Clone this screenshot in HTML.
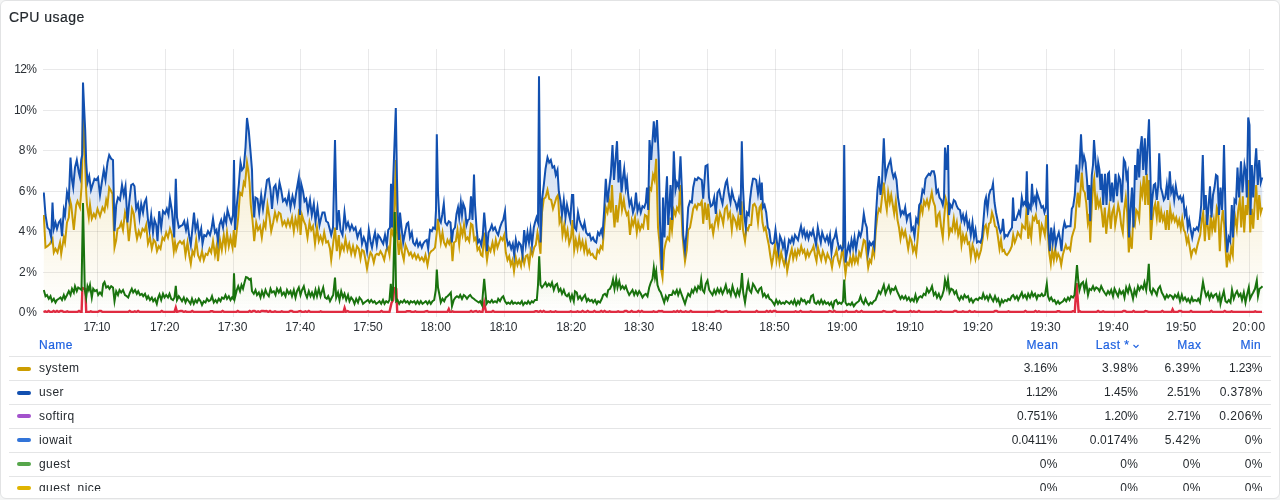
<!DOCTYPE html>
<html><head><meta charset="utf-8"><title>CPU usage</title>
<style>
html,body{margin:0;padding:0;width:1280px;height:500px;overflow:hidden;background:#f4f5f5;}
body{font-family:"Liberation Sans",sans-serif;color:#24292e;position:relative;}
#panel{position:absolute;left:0;top:0;width:1278px;height:497px;background:#fff;border:1px solid #e2e3e4;border-radius:6px;overflow:hidden;}
#title{will-change:transform;position:absolute;left:8px;top:7.5px;font-size:14px;line-height:16px;letter-spacing:0.45px;color:#24292e;-webkit-text-stroke:0.2px #24292e;}
svg{position:absolute;left:-1px;top:-1px;will-change:transform;}
.ax{font-size:12px;fill:#2b3036;font-family:"Liberation Sans",sans-serif;}
#legend{will-change:transform;position:absolute;left:8px;top:331px;width:1262px;height:159px;overflow:hidden;font-size:12px;}
.row{position:absolute;left:0;width:1262px;height:24px;border-top:1px solid #e4e5e6;box-sizing:border-box;}
.row .ic{position:absolute;left:8px;top:9px;width:14px;height:4px;border-radius:2px;}
.row .nm{position:absolute;left:30px;top:4px;line-height:14px;letter-spacing:0.42px;}
.v{position:absolute;top:4px;line-height:14px;text-align:right;width:80px;}
.hd{position:absolute;top:6px;line-height:14px;color:#1f62e0;letter-spacing:0.5px;-webkit-text-stroke:0.2px #1f62e0;}
.c1{right:213.5px}.c2{right:133px}.c3{right:70.5px}.c4{right:8.5px}
</style></head><body>
<div id="panel">
<div id="title">CPU usage</div>
<svg width="1280" height="500" viewBox="0 0 1280 500">
<defs>
<linearGradient id="gy" gradientUnits="userSpaceOnUse" x1="0" y1="49" x2="0" y2="313"><stop offset="0" stop-color="#CC9D00" stop-opacity="0.3"/><stop offset="1" stop-color="#CC9D00" stop-opacity="0"/></linearGradient>
<linearGradient id="gb" gradientUnits="userSpaceOnUse" x1="0" y1="49" x2="0" y2="313"><stop offset="0" stop-color="#1250B0" stop-opacity="0.3"/><stop offset="1" stop-color="#1250B0" stop-opacity="0"/></linearGradient>
<linearGradient id="gg" gradientUnits="userSpaceOnUse" x1="0" y1="49" x2="0" y2="313"><stop offset="0" stop-color="#19730E" stop-opacity="0.3"/><stop offset="1" stop-color="#19730E" stop-opacity="0"/></linearGradient>
<clipPath id="cp"><rect x="43" y="49" width="1221" height="264"/></clipPath>
</defs>
<g stroke="#24292e" stroke-opacity="0.1" stroke-width="1" fill="none">
<path d="M43 69.5H1264M43 110.5H1264M43 150.5H1264M43 191.5H1264M43 231.5H1264M43 272.5H1264M43 312.5H1264"/>
<path d="M97.5 49V317M165.5 49V317M233.5 49V317M300.5 49V317M368.5 49V317M436.5 49V317M504.5 49V317M571.5 49V317M639.5 49V317M707.5 49V317M775.5 49V317M842.5 49V317M910.5 49V317M978.5 49V317M1046.5 49V317M1114.5 49V317M1181.5 49V317M1249.5 49V317"/>
</g>
<g clip-path="url(#cp)" fill="none" stroke-linejoin="miter" stroke-miterlimit="10" stroke-linecap="butt">
<path d="M43.8 215.0 L45.5 247.5 L47.5 246.2 L50.0 243.8 L52.5 238.8 L53.8 252.5 L55.5 248.8 L57.5 252.5 L60.0 242.5 L61.2 253.8 L63.8 237.5 L65.0 242.5 L67.0 222.5 L68.8 217.5 L70.0 200.0 L71.2 205.0 L72.5 217.5 L73.8 230.0 L76.2 205.0 L77.5 201.2 L80.0 207.5 L81.5 187.5 L82.2 165.0 L83.0 113.8 L84.0 135.0 L85.2 165.0 L86.2 192.5 L87.0 205.0 L88.8 217.5 L90.0 205.0 L91.8 218.8 L93.8 213.8 L95.5 217.5 L97.5 208.8 L100.0 216.2 L102.5 207.5 L104.5 211.2 L106.2 200.0 L107.5 205.0 L109.2 187.5 L111.2 191.2 L112.5 193.8 L114.5 247.5 L116.2 240.0 L117.5 228.8 L119.5 227.5 L121.2 222.5 L123.0 230.0 L125.0 212.5 L127.0 220.0 L128.8 241.2 L130.5 225.0 L132.0 208.8 L133.8 213.8 L135.5 230.0 L137.0 238.8 L138.8 231.2 L140.5 236.2 L142.5 228.8 L144.5 231.2 L146.2 225.0 L148.0 243.8 L150.0 237.5 L151.8 248.8 L153.8 240.0 L155.5 242.5 L157.0 251.2 L158.8 246.2 L160.5 248.8 L162.5 237.5 L164.2 240.0 L166.2 232.5 L168.0 237.5 L170.0 228.8 L172.0 235.0 L173.8 251.2 L175.0 242.5 L176.2 250.0 L178.0 243.8 L180.0 241.2 L182.0 243.8 L183.8 241.2 L185.5 255.0 L187.5 242.5 L189.2 255.0 L190.8 263.8 L192.5 251.2 L194.2 255.0 L196.2 240.0 L198.0 255.0 L200.0 260.0 L202.0 251.2 L203.8 260.0 L205.8 253.8 L207.5 255.0 L209.5 248.8 L211.2 252.5 L213.0 241.2 L215.0 255.0 L216.8 245.0 L218.0 261.2 L220.0 240.0 L221.8 250.0 L223.8 235.0 L225.5 247.5 L227.0 232.5 L228.8 246.2 L230.5 237.5 L232.5 247.5 L233.8 230.0 L235.0 247.5 L236.8 230.0 L238.2 217.5 L240.0 192.5 L242.0 195.0 L243.8 182.5 L245.0 185.0 L247.0 162.5 L248.2 170.0 L249.5 182.5 L250.8 205.0 L252.5 220.0 L254.2 241.2 L256.2 222.5 L258.0 230.0 L260.0 226.2 L261.8 237.5 L263.8 222.5 L265.5 227.5 L267.5 205.0 L269.5 217.5 L271.2 231.2 L273.2 222.5 L275.0 212.5 L277.0 220.0 L278.8 212.5 L280.5 213.8 L282.5 225.0 L284.5 221.2 L286.2 226.2 L288.0 220.0 L290.0 226.2 L292.0 217.5 L293.8 231.2 L295.5 218.8 L297.5 227.5 L299.2 208.8 L300.5 235.0 L302.0 215.0 L303.8 221.2 L305.5 225.0 L307.5 237.5 L309.5 222.5 L311.2 230.0 L313.0 226.2 L315.0 243.8 L317.0 227.5 L318.8 241.2 L320.5 236.2 L322.5 242.5 L324.2 232.5 L326.2 242.5 L328.0 241.2 L330.0 248.8 L331.2 260.0 L333.0 245.0 L335.0 227.5 L336.8 251.2 L338.8 235.0 L340.0 253.8 L342.0 245.0 L343.8 250.0 L345.5 238.8 L347.5 250.0 L349.2 243.8 L351.2 253.8 L353.0 246.2 L355.0 255.0 L357.0 246.2 L358.8 248.8 L360.5 258.8 L362.0 250.0 L363.8 251.2 L365.5 260.0 L367.0 268.8 L368.8 258.8 L370.5 252.5 L372.0 255.0 L373.8 262.5 L375.5 255.0 L377.0 253.8 L378.8 255.0 L380.5 251.2 L382.5 255.0 L384.2 260.0 L386.2 250.0 L388.0 247.5 L389.5 255.0 L391.2 230.0 L393.0 235.0 L394.5 205.0 L395.8 160.0 L397.0 232.5 L398.8 255.0 L400.5 240.0 L402.0 252.5 L403.8 260.0 L405.5 245.0 L407.5 250.0 L409.2 255.0 L410.8 252.5 L412.5 257.5 L414.5 253.8 L416.2 258.8 L418.0 255.0 L420.0 260.0 L421.8 257.5 L423.8 261.2 L425.5 255.0 L427.5 265.0 L429.5 253.8 L431.2 251.2 L433.0 250.0 L435.0 247.5 L436.8 232.5 L438.0 218.8 L439.2 230.0 L440.8 242.5 L442.5 232.5 L444.0 242.5 L445.8 246.2 L447.5 240.0 L449.2 243.8 L451.0 237.5 L452.5 261.2 L454.0 242.5 L455.8 241.2 L457.5 230.0 L459.2 245.0 L460.8 227.5 L462.5 235.0 L464.0 225.0 L465.8 240.0 L467.5 237.5 L469.2 241.2 L471.0 223.8 L472.5 225.0 L474.2 240.0 L475.8 237.5 L477.5 250.0 L479.2 247.5 L481.0 255.0 L482.5 256.2 L484.2 232.5 L485.8 250.0 L487.0 260.0 L488.8 247.5 L490.5 251.2 L492.5 242.5 L494.2 251.2 L495.8 240.0 L497.5 247.5 L499.2 242.5 L500.8 237.5 L502.5 240.0 L504.2 235.0 L505.8 252.5 L507.5 260.0 L509.2 256.2 L510.8 265.0 L512.5 260.0 L514.0 271.2 L515.8 257.5 L517.5 265.0 L519.2 260.0 L521.0 266.2 L522.5 255.0 L524.2 263.8 L525.8 256.2 L527.5 255.0 L529.2 265.0 L530.8 250.0 L532.5 255.0 L534.2 247.5 L535.8 245.0 L537.5 232.5 L539.0 241.2 L540.5 253.8 L542.0 212.5 L543.8 198.8 L545.5 197.5 L547.5 190.0 L549.2 198.8 L551.2 200.0 L553.0 208.8 L555.0 202.5 L556.5 197.5 L558.0 195.0 L559.5 222.5 L561.2 217.5 L562.5 235.0 L564.2 225.0 L565.8 237.5 L567.5 230.0 L569.2 243.8 L571.0 237.5 L572.5 220.0 L574.2 250.0 L575.8 240.0 L577.5 248.8 L579.2 237.5 L580.8 247.5 L582.5 241.2 L584.2 251.2 L585.8 242.5 L587.5 253.8 L589.2 250.0 L590.8 255.0 L592.5 253.8 L594.2 257.5 L596.0 258.8 L597.5 250.0 L599.2 252.5 L600.8 246.2 L602.5 248.8 L604.2 227.5 L605.8 207.5 L607.5 212.5 L609.2 201.2 L610.8 212.5 L612.0 185.0 L613.2 210.0 L614.5 227.5 L616.2 205.0 L617.5 222.5 L619.2 205.0 L620.5 192.5 L622.0 210.0 L623.8 200.0 L625.0 208.8 L626.8 215.0 L628.2 212.5 L630.0 235.0 L631.8 220.0 L633.2 225.0 L635.0 217.5 L636.8 232.5 L638.2 222.5 L640.0 230.0 L641.8 225.0 L643.2 227.5 L645.0 215.0 L646.8 216.2 L648.2 230.0 L649.5 187.5 L651.2 190.0 L653.0 175.0 L654.5 180.0 L656.2 158.8 L658.0 227.5 L659.5 242.5 L661.2 270.0 L662.5 277.5 L664.2 250.0 L665.8 242.5 L667.5 237.5 L669.2 240.0 L670.5 217.5 L672.0 230.0 L673.8 210.0 L675.5 215.0 L677.0 207.5 L678.8 211.2 L680.0 185.0 L681.2 205.0 L682.5 235.0 L683.8 250.0 L685.0 261.2 L686.8 250.0 L688.2 230.0 L690.0 227.5 L691.8 217.5 L693.2 208.8 L695.0 205.0 L696.8 208.8 L698.2 203.8 L700.0 205.0 L701.8 201.2 L703.2 223.8 L705.0 202.5 L706.8 220.0 L708.2 203.8 L710.0 227.5 L711.8 225.0 L713.2 233.8 L715.0 222.5 L716.8 215.0 L718.2 225.0 L720.0 212.5 L721.8 217.5 L723.2 223.8 L725.0 208.8 L726.8 206.2 L728.2 217.5 L730.0 212.5 L731.8 230.0 L733.2 216.2 L735.0 220.0 L736.8 227.5 L738.2 217.5 L740.0 230.0 L741.5 201.2 L743.0 230.0 L745.0 241.2 L746.5 227.5 L748.0 230.0 L749.5 225.0 L751.2 225.0 L753.0 205.0 L754.5 203.8 L756.2 207.5 L758.0 222.5 L759.5 207.5 L761.0 205.0 L762.5 222.5 L764.0 230.0 L765.5 227.5 L767.0 236.2 L768.8 245.0 L770.2 255.0 L771.8 265.0 L773.2 257.5 L775.0 245.0 L776.5 260.0 L778.0 250.0 L779.5 262.5 L781.2 252.5 L782.8 260.0 L784.2 265.0 L785.8 257.5 L787.2 271.2 L788.8 262.5 L790.2 255.0 L791.8 248.8 L793.2 258.8 L795.0 251.2 L796.5 257.5 L798.0 250.0 L799.5 253.8 L801.2 246.2 L802.8 252.5 L804.2 250.0 L805.8 257.5 L807.5 251.2 L809.0 256.2 L810.5 252.5 L812.0 250.0 L813.5 246.2 L815.0 255.0 L816.5 261.2 L818.0 247.5 L819.5 253.8 L821.2 260.0 L822.8 251.2 L824.2 255.0 L825.8 261.2 L827.5 253.8 L829.0 257.5 L830.5 260.0 L832.0 267.5 L833.5 257.5 L835.0 255.0 L836.5 250.0 L838.0 260.0 L839.5 265.0 L841.0 257.5 L842.5 247.5 L844.0 260.0 L845.5 273.8 L847.0 262.5 L848.8 265.0 L850.2 257.5 L851.8 263.8 L853.2 255.0 L854.8 262.5 L856.2 257.5 L857.8 262.5 L859.2 252.5 L860.8 256.2 L862.2 248.8 L863.8 240.0 L865.2 241.2 L866.8 255.0 L868.2 267.5 L869.8 260.0 L871.2 262.5 L872.8 250.0 L874.2 255.0 L875.8 230.0 L877.5 215.0 L879.0 208.8 L880.5 211.2 L882.0 197.5 L883.8 182.5 L885.2 200.0 L886.8 210.0 L888.2 192.5 L889.8 202.5 L891.2 195.0 L892.8 205.0 L894.2 213.8 L895.8 201.2 L897.5 220.0 L899.0 227.5 L900.5 238.8 L902.0 230.0 L903.8 236.2 L905.2 231.2 L906.8 240.0 L908.2 248.8 L910.0 237.5 L911.5 241.2 L913.0 251.2 L914.5 246.2 L916.2 253.8 L917.8 237.5 L919.2 220.0 L920.8 205.0 L922.5 212.5 L924.0 201.2 L925.5 205.0 L927.0 200.0 L928.8 207.5 L930.2 200.0 L931.8 192.5 L933.2 201.2 L935.0 206.2 L936.5 227.5 L938.0 215.0 L939.5 212.5 L941.2 227.5 L942.8 237.5 L944.2 217.5 L945.8 198.8 L947.5 205.0 L949.0 235.0 L950.5 228.8 L952.0 231.2 L953.8 218.8 L955.2 230.0 L956.8 222.5 L958.2 235.0 L960.0 227.5 L961.5 245.0 L963.0 235.0 L964.5 241.2 L966.2 235.0 L967.8 243.8 L969.2 242.5 L970.8 257.5 L972.5 245.0 L974.0 250.0 L975.5 258.8 L977.0 251.2 L978.8 257.5 L981.0 250.0 L982.5 240.0 L984.2 227.5 L985.8 225.0 L987.5 235.0 L989.0 223.8 L990.5 222.5 L992.0 212.5 L993.5 217.5 L995.0 226.2 L996.5 227.5 L998.0 237.5 L999.5 248.8 L1001.0 240.0 L1002.5 251.2 L1004.0 250.0 L1005.5 253.8 L1007.0 255.0 L1008.8 252.5 L1010.2 250.0 L1011.8 246.2 L1013.2 235.0 L1014.8 242.5 L1016.2 238.8 L1017.8 232.5 L1019.2 235.0 L1020.8 237.5 L1022.2 225.0 L1023.8 227.5 L1025.2 228.8 L1026.8 205.0 L1028.2 238.8 L1029.8 227.5 L1031.2 237.5 L1032.8 217.5 L1034.2 220.0 L1035.8 215.0 L1037.2 222.5 L1038.8 221.2 L1040.2 237.5 L1041.8 225.0 L1043.2 228.8 L1044.8 235.0 L1046.2 215.0 L1047.8 232.5 L1049.2 252.5 L1050.8 263.8 L1052.2 250.0 L1053.8 260.0 L1055.2 248.8 L1056.8 258.8 L1058.2 253.8 L1059.8 257.5 L1061.2 265.0 L1062.8 255.0 L1064.2 250.0 L1065.8 245.0 L1067.2 248.8 L1068.8 247.5 L1070.2 250.0 L1071.8 237.5 L1073.2 232.5 L1074.8 227.5 L1076.2 207.5 L1077.8 192.5 L1079.2 207.5 L1080.8 187.5 L1081.8 172.5 L1083.2 190.0 L1084.8 192.5 L1086.2 202.5 L1087.8 222.5 L1089.2 213.8 L1090.2 242.5 L1091.8 205.0 L1093.2 185.0 L1094.2 178.8 L1095.8 210.0 L1097.2 197.5 L1098.8 206.2 L1100.2 201.2 L1101.8 212.5 L1103.2 227.5 L1104.8 207.5 L1106.2 233.8 L1107.8 217.5 L1109.2 207.5 L1110.8 228.8 L1112.2 212.5 L1113.8 207.5 L1115.2 225.0 L1116.8 215.0 L1118.2 205.0 L1119.8 212.5 L1121.2 225.0 L1122.8 232.5 L1124.2 210.0 L1125.8 197.5 L1127.2 212.5 L1128.8 252.5 L1130.2 237.5 L1131.8 248.8 L1133.2 220.0 L1134.8 225.0 L1136.2 210.0 L1137.8 212.5 L1139.2 218.8 L1140.8 187.5 L1142.2 195.0 L1143.8 176.2 L1145.2 205.0 L1146.8 173.8 L1148.2 205.0 L1149.2 180.0 L1150.8 240.0 L1152.2 221.2 L1153.8 208.8 L1155.2 203.8 L1156.8 217.5 L1158.2 201.2 L1159.8 222.5 L1161.2 211.2 L1162.8 220.0 L1164.2 215.0 L1165.8 230.0 L1167.2 210.0 L1168.8 230.0 L1170.2 208.8 L1171.8 220.0 L1173.2 215.0 L1174.8 221.2 L1176.2 217.5 L1177.8 225.0 L1179.2 220.0 L1180.8 228.8 L1182.2 218.8 L1183.8 230.0 L1185.2 232.5 L1186.8 242.5 L1188.2 237.5 L1189.8 247.5 L1191.2 256.2 L1192.8 250.0 L1194.2 248.8 L1195.8 252.5 L1197.2 246.2 L1198.8 240.0 L1200.2 235.0 L1201.8 220.0 L1203.2 212.5 L1204.8 241.2 L1206.2 220.0 L1207.8 226.2 L1209.2 240.0 L1210.8 215.0 L1212.2 230.0 L1213.8 220.0 L1215.2 232.5 L1216.8 207.5 L1218.2 211.2 L1219.8 251.2 L1221.2 225.0 L1222.8 210.0 L1224.2 225.0 L1225.8 252.5 L1226.8 267.5 L1228.2 255.0 L1229.8 260.0 L1231.2 247.5 L1232.8 255.0 L1233.8 227.5 L1235.2 217.5 L1236.8 228.8 L1238.2 210.0 L1239.8 200.0 L1241.2 227.5 L1242.8 196.2 L1244.2 232.5 L1245.8 205.0 L1247.2 215.0 L1248.8 180.0 L1250.2 232.5 L1251.8 208.8 L1253.2 228.8 L1254.8 202.5 L1256.2 185.0 L1257.8 220.0 L1259.2 195.0 L1260.8 212.5 L1262.2 207.5 L1262.2 312.0 L43.8 312.0 Z" fill="url(#gy)" stroke="none"/>
<path d="M43.8 192.5 L45.5 215.0 L47.5 227.5 L49.5 230.0 L51.2 237.5 L52.5 202.5 L53.8 228.8 L55.5 222.5 L57.0 228.8 L58.8 222.5 L60.5 220.0 L62.0 236.2 L63.8 210.0 L65.0 215.0 L67.0 192.5 L68.8 200.0 L70.5 157.5 L72.0 180.0 L73.2 187.5 L75.0 167.5 L76.8 160.0 L78.8 172.5 L80.0 177.5 L81.2 160.0 L82.2 155.0 L83.0 82.5 L84.0 105.0 L85.2 130.0 L86.2 162.5 L87.5 182.5 L89.2 176.2 L91.0 190.0 L92.5 185.0 L94.5 178.8 L96.2 180.0 L98.0 177.5 L100.0 195.0 L101.8 182.5 L103.8 170.0 L105.5 180.0 L107.5 162.5 L109.2 155.0 L111.2 158.8 L113.0 160.0 L114.5 231.2 L116.2 205.0 L118.0 197.5 L120.0 200.0 L122.0 185.0 L123.8 195.0 L125.5 186.2 L127.5 222.5 L129.2 202.5 L131.2 185.0 L133.0 183.8 L134.5 186.2 L136.2 208.8 L138.0 203.8 L139.5 217.5 L141.2 203.8 L143.0 212.5 L144.5 202.5 L146.2 198.8 L148.0 220.0 L149.5 230.0 L151.2 215.0 L153.0 232.5 L154.5 220.0 L156.2 225.0 L157.5 241.2 L159.2 211.2 L161.2 227.5 L163.0 211.2 L165.0 213.8 L166.8 208.8 L168.5 215.0 L170.0 198.8 L172.0 211.2 L174.2 237.5 L175.8 178.8 L177.0 217.5 L178.8 227.5 L180.5 226.2 L182.5 225.0 L184.2 221.2 L186.0 230.0 L187.5 222.5 L189.2 236.2 L190.8 245.0 L192.5 227.5 L194.0 212.5 L195.5 230.0 L197.5 222.5 L199.2 237.5 L201.2 228.8 L202.5 243.8 L204.2 235.0 L206.2 236.2 L208.0 231.2 L210.0 235.0 L211.5 228.8 L213.0 218.8 L215.0 232.5 L216.5 230.0 L218.0 241.2 L219.5 225.0 L221.2 220.0 L223.0 227.5 L224.5 216.2 L226.2 222.5 L227.5 210.0 L229.2 216.2 L231.2 222.5 L233.0 215.0 L234.0 160.0 L235.0 230.0 L236.8 205.0 L238.8 185.0 L240.5 162.5 L242.0 170.0 L243.8 167.5 L245.5 147.5 L247.0 118.0 L248.8 131.2 L250.8 155.0 L252.0 170.0 L252.5 190.0 L254.2 217.5 L255.5 197.5 L257.5 198.8 L259.2 212.5 L261.2 195.0 L263.0 208.8 L265.0 195.0 L267.0 180.0 L268.8 178.8 L270.5 190.0 L272.0 208.8 L273.8 187.5 L275.5 185.0 L277.5 198.8 L279.5 182.5 L281.2 190.0 L283.0 201.2 L285.0 198.8 L286.8 203.8 L288.8 193.8 L290.5 207.5 L292.5 196.2 L294.5 205.0 L296.2 192.5 L298.8 177.5 L300.0 215.0 L301.2 183.8 L303.0 191.2 L304.5 201.2 L306.2 198.8 L308.0 211.2 L310.0 200.0 L311.8 215.0 L313.8 203.8 L315.5 221.2 L317.5 207.5 L319.5 225.0 L321.2 217.5 L322.5 212.5 L324.5 212.5 L326.2 221.2 L328.0 222.5 L330.0 230.0 L331.2 235.0 L333.0 227.5 L335.0 140.0 L336.8 230.0 L338.8 210.0 L340.5 230.0 L342.5 235.0 L344.5 212.5 L346.2 227.5 L348.0 222.5 L350.0 230.0 L351.8 225.0 L353.8 230.0 L355.5 227.5 L357.5 237.5 L359.2 232.5 L360.5 230.0 L362.0 243.8 L363.8 237.5 L365.5 242.5 L367.0 251.2 L368.8 230.0 L370.5 241.2 L372.0 247.5 L373.8 237.5 L375.0 232.5 L376.8 245.0 L378.2 235.0 L380.0 237.5 L381.8 241.2 L383.2 243.8 L385.0 235.0 L386.8 245.0 L388.2 230.0 L390.0 227.5 L391.0 183.8 L392.0 227.5 L393.2 180.0 L395.8 108.0 L397.0 180.0 L398.0 225.0 L399.0 240.0 L400.0 212.5 L401.8 230.0 L403.2 242.5 L405.0 232.5 L406.8 223.8 L408.2 222.5 L410.0 237.5 L411.8 232.5 L413.2 242.5 L415.0 245.0 L416.8 240.0 L418.2 246.2 L420.0 242.5 L421.8 247.5 L423.2 243.8 L425.0 241.2 L426.8 240.0 L428.2 248.8 L430.0 230.0 L431.8 231.2 L433.2 227.5 L435.0 228.8 L436.0 210.0 L436.8 134.2 L438.0 192.5 L439.5 220.0 L440.8 222.5 L442.2 215.0 L443.8 203.8 L445.2 222.5 L447.0 225.0 L448.8 221.2 L450.5 222.5 L451.8 242.5 L453.2 230.0 L455.0 227.5 L456.5 213.8 L458.0 207.5 L459.2 217.5 L460.8 202.5 L462.0 215.0 L463.2 203.8 L465.0 208.8 L466.5 225.0 L468.0 220.0 L469.5 218.8 L471.0 196.2 L472.5 220.0 L474.0 174.5 L475.0 205.0 L476.5 227.5 L478.0 242.5 L479.5 240.0 L481.2 245.0 L482.8 235.0 L484.2 212.5 L485.5 227.5 L487.0 251.2 L488.5 232.5 L490.0 230.0 L491.8 225.0 L493.2 230.0 L495.0 227.5 L496.8 232.5 L498.2 235.0 L500.0 227.5 L501.8 222.5 L503.2 220.0 L505.0 211.2 L506.5 237.5 L508.0 245.0 L509.5 242.5 L511.2 248.8 L512.8 243.8 L514.2 255.0 L515.8 240.0 L517.5 248.8 L519.0 242.5 L520.8 245.0 L522.5 255.0 L524.2 230.0 L525.8 245.0 L527.5 232.5 L529.0 242.5 L530.5 230.0 L532.0 245.0 L533.8 227.5 L535.0 222.5 L536.5 217.5 L538.0 222.5 L539.0 76.2 L540.5 242.5 L542.0 200.0 L543.8 185.0 L545.5 168.8 L547.5 157.5 L549.2 162.5 L550.8 160.0 L552.5 167.5 L554.2 166.2 L555.8 175.0 L557.5 170.0 L558.8 191.2 L560.5 201.2 L562.0 215.0 L563.8 200.0 L565.5 217.5 L567.0 205.0 L568.8 213.8 L570.2 220.0 L572.0 195.0 L573.2 195.0 L574.5 227.5 L576.2 230.0 L578.0 212.5 L579.5 220.0 L581.2 225.0 L583.0 228.8 L584.5 222.5 L586.2 232.5 L588.0 235.0 L589.5 233.8 L591.2 240.0 L593.0 237.5 L594.5 241.2 L596.2 242.5 L598.0 232.5 L599.5 235.0 L601.2 230.0 L602.5 235.0 L604.2 210.0 L605.8 178.8 L607.5 202.5 L609.2 187.5 L610.8 175.0 L612.5 145.0 L614.0 180.0 L615.5 160.0 L617.0 141.2 L618.5 182.5 L620.0 160.0 L621.5 192.5 L623.0 177.5 L624.2 168.8 L625.8 187.5 L627.0 180.0 L628.2 195.0 L629.5 205.0 L631.2 200.0 L633.0 212.5 L634.5 207.5 L636.0 192.5 L637.5 211.2 L639.2 205.0 L640.8 212.5 L642.5 206.2 L644.2 207.5 L645.8 202.5 L647.0 187.5 L648.2 210.0 L649.5 140.0 L651.2 160.0 L653.8 121.2 L655.2 142.5 L657.0 120.0 L658.8 160.0 L660.0 222.5 L661.8 270.0 L663.0 197.5 L664.5 237.5 L665.8 197.5 L667.0 176.2 L668.2 225.0 L669.5 205.0 L670.5 185.0 L672.0 220.0 L673.8 151.2 L675.5 190.0 L677.0 182.5 L678.8 187.5 L680.5 156.2 L682.0 192.5 L683.2 235.0 L685.0 250.0 L686.8 230.0 L688.2 207.5 L690.0 201.2 L691.8 202.5 L693.2 187.5 L695.0 178.8 L696.8 180.0 L698.2 177.5 L700.0 178.8 L701.8 180.0 L703.2 198.8 L705.5 166.2 L707.5 165.0 L709.0 197.5 L710.8 206.2 L712.5 205.0 L714.2 197.5 L715.8 213.8 L717.5 192.5 L719.2 190.0 L720.8 197.5 L722.5 203.8 L724.2 191.2 L725.8 182.5 L727.0 180.0 L728.8 193.8 L730.5 202.5 L732.0 191.2 L733.8 198.8 L735.5 202.5 L737.0 208.8 L738.8 200.0 L740.5 215.0 L741.8 141.2 L743.0 187.5 L744.5 217.5 L745.8 227.5 L747.0 212.5 L748.8 215.0 L750.0 200.0 L751.5 187.5 L753.0 178.8 L754.5 178.8 L756.2 180.0 L758.0 193.8 L759.5 182.5 L761.0 200.0 L761.8 182.5 L763.0 207.5 L764.5 205.0 L766.2 212.5 L767.8 227.5 L769.2 230.0 L770.8 242.5 L772.5 243.8 L774.0 242.5 L775.5 230.0 L777.0 242.5 L778.5 251.2 L780.0 236.2 L781.5 240.0 L783.0 247.5 L784.5 241.2 L786.0 257.5 L787.5 250.0 L789.0 240.0 L790.5 242.5 L792.0 237.5 L793.5 242.5 L795.0 235.0 L796.5 237.5 L798.0 240.0 L799.5 232.5 L801.0 226.2 L802.5 235.0 L804.0 230.0 L805.5 237.5 L807.0 232.5 L808.5 238.8 L810.0 232.5 L811.5 235.0 L813.0 230.0 L814.5 237.5 L816.0 245.0 L817.8 227.5 L819.2 235.0 L820.8 242.5 L822.2 232.5 L823.8 237.5 L825.2 241.2 L827.0 236.2 L828.5 242.5 L830.0 235.0 L831.5 252.5 L833.0 240.0 L834.5 237.5 L836.0 231.2 L837.5 241.2 L839.0 248.8 L840.5 246.2 L842.0 250.0 L843.2 247.5 L844.2 145.0 L845.5 262.5 L847.0 252.5 L848.5 245.0 L850.0 251.2 L851.5 240.0 L853.0 247.5 L854.5 237.5 L856.0 250.0 L857.5 240.0 L859.0 232.5 L860.5 236.2 L862.0 230.0 L863.8 213.8 L865.2 222.5 L866.8 227.5 L868.2 252.5 L869.8 242.5 L871.2 245.0 L872.8 242.5 L874.2 247.5 L875.8 217.5 L877.5 190.0 L879.0 176.2 L880.5 195.0 L882.0 182.5 L883.8 138.2 L885.5 177.5 L887.0 170.0 L888.5 165.0 L890.5 160.0 L892.0 171.2 L893.5 177.5 L895.0 173.8 L896.5 180.0 L898.0 197.5 L899.2 205.0 L900.8 215.0 L902.2 211.2 L903.8 213.8 L905.2 207.5 L906.8 220.0 L908.2 215.0 L910.0 213.8 L911.5 230.0 L913.0 227.5 L914.5 236.2 L916.2 218.8 L917.8 222.5 L919.2 205.0 L920.8 202.5 L922.5 190.0 L924.0 192.5 L925.5 178.8 L927.0 176.2 L928.8 173.8 L930.2 175.0 L931.8 171.2 L933.8 171.2 L935.0 176.2 L936.5 192.5 L938.0 190.0 L939.5 197.5 L941.2 200.0 L942.8 205.0 L944.0 197.5 L945.0 147.5 L946.5 170.0 L948.0 145.0 L949.0 215.0 L950.5 205.0 L952.0 207.5 L953.8 200.0 L955.2 201.2 L956.8 206.2 L958.2 208.8 L960.0 210.0 L961.5 220.0 L963.0 215.0 L964.5 222.5 L966.2 215.0 L967.8 227.5 L969.2 222.5 L970.8 235.0 L972.5 222.5 L974.0 237.5 L975.5 230.0 L977.0 242.5 L978.8 241.2 L980.5 242.5 L982.0 237.5 L983.5 220.0 L985.0 201.2 L986.0 197.5 L987.5 210.0 L989.0 195.0 L990.5 190.0 L992.0 188.8 L993.0 183.8 L994.5 202.5 L996.0 212.5 L997.5 220.0 L999.0 227.5 L1000.5 232.5 L1002.0 230.0 L1003.0 218.8 L1004.5 237.5 L1006.0 235.0 L1007.5 236.2 L1009.0 232.5 L1010.5 230.0 L1012.0 227.5 L1013.0 197.5 L1014.2 220.0 L1015.8 220.0 L1017.2 216.2 L1018.8 211.2 L1020.2 215.0 L1021.8 197.5 L1023.2 205.0 L1024.5 202.5 L1025.8 205.0 L1026.8 171.2 L1028.0 215.0 L1029.2 205.0 L1030.8 208.8 L1032.0 183.8 L1033.2 202.5 L1034.8 197.5 L1036.2 205.0 L1037.0 192.5 L1038.5 197.5 L1040.0 202.5 L1041.5 207.5 L1043.0 206.2 L1044.5 212.5 L1046.0 207.5 L1047.0 164.2 L1048.2 227.5 L1049.8 251.2 L1051.2 227.5 L1052.8 242.5 L1054.2 230.0 L1055.8 245.0 L1057.2 237.5 L1058.8 232.5 L1060.2 240.0 L1061.5 251.2 L1063.0 230.0 L1064.5 222.5 L1066.0 227.5 L1067.5 226.2 L1069.0 226.2 L1070.5 226.2 L1071.8 208.8 L1073.2 206.2 L1074.8 195.0 L1076.5 164.5 L1078.0 182.5 L1079.5 167.5 L1081.0 134.2 L1082.5 165.0 L1084.0 156.2 L1085.5 162.5 L1087.0 180.0 L1088.2 200.0 L1089.2 185.0 L1090.2 221.2 L1091.8 175.0 L1093.0 165.0 L1094.0 140.0 L1095.8 165.0 L1097.2 177.5 L1098.2 162.5 L1099.5 170.0 L1100.5 190.0 L1101.8 173.8 L1103.2 205.0 L1105.0 173.8 L1106.5 205.0 L1108.0 173.8 L1109.0 172.5 L1110.5 201.2 L1112.0 182.5 L1113.5 202.5 L1115.5 173.8 L1117.0 196.2 L1118.8 176.2 L1120.2 180.0 L1121.8 202.5 L1123.8 159.5 L1125.2 162.5 L1126.5 177.5 L1127.8 172.5 L1129.0 237.5 L1130.5 210.0 L1132.0 187.5 L1133.5 227.5 L1135.0 165.0 L1136.5 180.0 L1137.8 148.8 L1139.2 177.5 L1140.5 147.5 L1141.8 136.2 L1143.2 170.0 L1144.8 138.2 L1146.2 175.0 L1147.8 142.5 L1149.0 119.2 L1150.5 177.5 L1151.2 220.0 L1152.2 200.0 L1153.8 185.0 L1155.2 183.8 L1156.8 200.0 L1158.2 185.0 L1159.2 153.2 L1160.8 187.5 L1162.2 192.5 L1163.8 200.0 L1165.2 197.5 L1166.8 185.0 L1168.2 200.0 L1169.8 171.2 L1171.2 192.5 L1172.8 187.5 L1174.2 200.0 L1175.8 186.2 L1177.2 195.0 L1178.8 198.8 L1180.2 196.2 L1181.8 201.2 L1183.2 197.5 L1184.8 215.0 L1186.2 210.0 L1187.8 227.5 L1189.2 220.0 L1190.8 230.0 L1192.2 237.5 L1193.8 228.8 L1195.2 230.0 L1196.8 227.5 L1198.2 230.0 L1199.8 220.0 L1201.2 205.0 L1202.8 155.0 L1204.2 210.0 L1205.8 195.0 L1207.2 225.0 L1208.8 202.5 L1210.0 186.2 L1211.5 217.5 L1213.0 195.0 L1214.5 187.5 L1216.0 175.0 L1217.5 176.2 L1219.0 215.0 L1220.5 187.5 L1222.0 210.0 L1223.0 187.5 L1224.0 145.0 L1225.8 225.0 L1227.2 252.5 L1228.8 237.5 L1230.2 241.2 L1231.8 205.0 L1233.0 237.5 L1234.5 200.0 L1236.0 202.5 L1237.5 167.5 L1239.0 197.5 L1241.0 161.2 L1242.5 192.5 L1244.5 165.0 L1245.8 172.5 L1246.8 197.5 L1248.2 117.5 L1249.5 125.0 L1250.5 215.0 L1251.8 165.0 L1253.2 197.5 L1254.8 167.5 L1256.2 148.2 L1257.8 185.0 L1259.2 160.0 L1260.8 182.5 L1262.2 177.5 L1262.2 207.5 L1260.8 212.5 L1259.2 195.0 L1257.8 220.0 L1256.2 185.0 L1254.8 202.5 L1253.2 228.8 L1251.8 208.8 L1250.2 232.5 L1248.8 180.0 L1247.2 215.0 L1245.8 205.0 L1244.2 232.5 L1242.8 196.2 L1241.2 227.5 L1239.8 200.0 L1238.2 210.0 L1236.8 228.8 L1235.2 217.5 L1233.8 227.5 L1232.8 255.0 L1231.2 247.5 L1229.8 260.0 L1228.2 255.0 L1226.8 267.5 L1225.8 252.5 L1224.2 225.0 L1222.8 210.0 L1221.2 225.0 L1219.8 251.2 L1218.2 211.2 L1216.8 207.5 L1215.2 232.5 L1213.8 220.0 L1212.2 230.0 L1210.8 215.0 L1209.2 240.0 L1207.8 226.2 L1206.2 220.0 L1204.8 241.2 L1203.2 212.5 L1201.8 220.0 L1200.2 235.0 L1198.8 240.0 L1197.2 246.2 L1195.8 252.5 L1194.2 248.8 L1192.8 250.0 L1191.2 256.2 L1189.8 247.5 L1188.2 237.5 L1186.8 242.5 L1185.2 232.5 L1183.8 230.0 L1182.2 218.8 L1180.8 228.8 L1179.2 220.0 L1177.8 225.0 L1176.2 217.5 L1174.8 221.2 L1173.2 215.0 L1171.8 220.0 L1170.2 208.8 L1168.8 230.0 L1167.2 210.0 L1165.8 230.0 L1164.2 215.0 L1162.8 220.0 L1161.2 211.2 L1159.8 222.5 L1158.2 201.2 L1156.8 217.5 L1155.2 203.8 L1153.8 208.8 L1152.2 221.2 L1150.8 240.0 L1149.2 180.0 L1148.2 205.0 L1146.8 173.8 L1145.2 205.0 L1143.8 176.2 L1142.2 195.0 L1140.8 187.5 L1139.2 218.8 L1137.8 212.5 L1136.2 210.0 L1134.8 225.0 L1133.2 220.0 L1131.8 248.8 L1130.2 237.5 L1128.8 252.5 L1127.2 212.5 L1125.8 197.5 L1124.2 210.0 L1122.8 232.5 L1121.2 225.0 L1119.8 212.5 L1118.2 205.0 L1116.8 215.0 L1115.2 225.0 L1113.8 207.5 L1112.2 212.5 L1110.8 228.8 L1109.2 207.5 L1107.8 217.5 L1106.2 233.8 L1104.8 207.5 L1103.2 227.5 L1101.8 212.5 L1100.2 201.2 L1098.8 206.2 L1097.2 197.5 L1095.8 210.0 L1094.2 178.8 L1093.2 185.0 L1091.8 205.0 L1090.2 242.5 L1089.2 213.8 L1087.8 222.5 L1086.2 202.5 L1084.8 192.5 L1083.2 190.0 L1081.8 172.5 L1080.8 187.5 L1079.2 207.5 L1077.8 192.5 L1076.2 207.5 L1074.8 227.5 L1073.2 232.5 L1071.8 237.5 L1070.2 250.0 L1068.8 247.5 L1067.2 248.8 L1065.8 245.0 L1064.2 250.0 L1062.8 255.0 L1061.2 265.0 L1059.8 257.5 L1058.2 253.8 L1056.8 258.8 L1055.2 248.8 L1053.8 260.0 L1052.2 250.0 L1050.8 263.8 L1049.2 252.5 L1047.8 232.5 L1046.2 215.0 L1044.8 235.0 L1043.2 228.8 L1041.8 225.0 L1040.2 237.5 L1038.8 221.2 L1037.2 222.5 L1035.8 215.0 L1034.2 220.0 L1032.8 217.5 L1031.2 237.5 L1029.8 227.5 L1028.2 238.8 L1026.8 205.0 L1025.2 228.8 L1023.8 227.5 L1022.2 225.0 L1020.8 237.5 L1019.2 235.0 L1017.8 232.5 L1016.2 238.8 L1014.8 242.5 L1013.2 235.0 L1011.8 246.2 L1010.2 250.0 L1008.8 252.5 L1007.0 255.0 L1005.5 253.8 L1004.0 250.0 L1002.5 251.2 L1001.0 240.0 L999.5 248.8 L998.0 237.5 L996.5 227.5 L995.0 226.2 L993.5 217.5 L992.0 212.5 L990.5 222.5 L989.0 223.8 L987.5 235.0 L985.8 225.0 L984.2 227.5 L982.5 240.0 L981.0 250.0 L978.8 257.5 L977.0 251.2 L975.5 258.8 L974.0 250.0 L972.5 245.0 L970.8 257.5 L969.2 242.5 L967.8 243.8 L966.2 235.0 L964.5 241.2 L963.0 235.0 L961.5 245.0 L960.0 227.5 L958.2 235.0 L956.8 222.5 L955.2 230.0 L953.8 218.8 L952.0 231.2 L950.5 228.8 L949.0 235.0 L947.5 205.0 L945.8 198.8 L944.2 217.5 L942.8 237.5 L941.2 227.5 L939.5 212.5 L938.0 215.0 L936.5 227.5 L935.0 206.2 L933.2 201.2 L931.8 192.5 L930.2 200.0 L928.8 207.5 L927.0 200.0 L925.5 205.0 L924.0 201.2 L922.5 212.5 L920.8 205.0 L919.2 220.0 L917.8 237.5 L916.2 253.8 L914.5 246.2 L913.0 251.2 L911.5 241.2 L910.0 237.5 L908.2 248.8 L906.8 240.0 L905.2 231.2 L903.8 236.2 L902.0 230.0 L900.5 238.8 L899.0 227.5 L897.5 220.0 L895.8 201.2 L894.2 213.8 L892.8 205.0 L891.2 195.0 L889.8 202.5 L888.2 192.5 L886.8 210.0 L885.2 200.0 L883.8 182.5 L882.0 197.5 L880.5 211.2 L879.0 208.8 L877.5 215.0 L875.8 230.0 L874.2 255.0 L872.8 250.0 L871.2 262.5 L869.8 260.0 L868.2 267.5 L866.8 255.0 L865.2 241.2 L863.8 240.0 L862.2 248.8 L860.8 256.2 L859.2 252.5 L857.8 262.5 L856.2 257.5 L854.8 262.5 L853.2 255.0 L851.8 263.8 L850.2 257.5 L848.8 265.0 L847.0 262.5 L845.5 273.8 L844.0 260.0 L842.5 247.5 L841.0 257.5 L839.5 265.0 L838.0 260.0 L836.5 250.0 L835.0 255.0 L833.5 257.5 L832.0 267.5 L830.5 260.0 L829.0 257.5 L827.5 253.8 L825.8 261.2 L824.2 255.0 L822.8 251.2 L821.2 260.0 L819.5 253.8 L818.0 247.5 L816.5 261.2 L815.0 255.0 L813.5 246.2 L812.0 250.0 L810.5 252.5 L809.0 256.2 L807.5 251.2 L805.8 257.5 L804.2 250.0 L802.8 252.5 L801.2 246.2 L799.5 253.8 L798.0 250.0 L796.5 257.5 L795.0 251.2 L793.2 258.8 L791.8 248.8 L790.2 255.0 L788.8 262.5 L787.2 271.2 L785.8 257.5 L784.2 265.0 L782.8 260.0 L781.2 252.5 L779.5 262.5 L778.0 250.0 L776.5 260.0 L775.0 245.0 L773.2 257.5 L771.8 265.0 L770.2 255.0 L768.8 245.0 L767.0 236.2 L765.5 227.5 L764.0 230.0 L762.5 222.5 L761.0 205.0 L759.5 207.5 L758.0 222.5 L756.2 207.5 L754.5 203.8 L753.0 205.0 L751.2 225.0 L749.5 225.0 L748.0 230.0 L746.5 227.5 L745.0 241.2 L743.0 230.0 L741.5 201.2 L740.0 230.0 L738.2 217.5 L736.8 227.5 L735.0 220.0 L733.2 216.2 L731.8 230.0 L730.0 212.5 L728.2 217.5 L726.8 206.2 L725.0 208.8 L723.2 223.8 L721.8 217.5 L720.0 212.5 L718.2 225.0 L716.8 215.0 L715.0 222.5 L713.2 233.8 L711.8 225.0 L710.0 227.5 L708.2 203.8 L706.8 220.0 L705.0 202.5 L703.2 223.8 L701.8 201.2 L700.0 205.0 L698.2 203.8 L696.8 208.8 L695.0 205.0 L693.2 208.8 L691.8 217.5 L690.0 227.5 L688.2 230.0 L686.8 250.0 L685.0 261.2 L683.8 250.0 L682.5 235.0 L681.2 205.0 L680.0 185.0 L678.8 211.2 L677.0 207.5 L675.5 215.0 L673.8 210.0 L672.0 230.0 L670.5 217.5 L669.2 240.0 L667.5 237.5 L665.8 242.5 L664.2 250.0 L662.5 277.5 L661.2 270.0 L659.5 242.5 L658.0 227.5 L656.2 158.8 L654.5 180.0 L653.0 175.0 L651.2 190.0 L649.5 187.5 L648.2 230.0 L646.8 216.2 L645.0 215.0 L643.2 227.5 L641.8 225.0 L640.0 230.0 L638.2 222.5 L636.8 232.5 L635.0 217.5 L633.2 225.0 L631.8 220.0 L630.0 235.0 L628.2 212.5 L626.8 215.0 L625.0 208.8 L623.8 200.0 L622.0 210.0 L620.5 192.5 L619.2 205.0 L617.5 222.5 L616.2 205.0 L614.5 227.5 L613.2 210.0 L612.0 185.0 L610.8 212.5 L609.2 201.2 L607.5 212.5 L605.8 207.5 L604.2 227.5 L602.5 248.8 L600.8 246.2 L599.2 252.5 L597.5 250.0 L596.0 258.8 L594.2 257.5 L592.5 253.8 L590.8 255.0 L589.2 250.0 L587.5 253.8 L585.8 242.5 L584.2 251.2 L582.5 241.2 L580.8 247.5 L579.2 237.5 L577.5 248.8 L575.8 240.0 L574.2 250.0 L572.5 220.0 L571.0 237.5 L569.2 243.8 L567.5 230.0 L565.8 237.5 L564.2 225.0 L562.5 235.0 L561.2 217.5 L559.5 222.5 L558.0 195.0 L556.5 197.5 L555.0 202.5 L553.0 208.8 L551.2 200.0 L549.2 198.8 L547.5 190.0 L545.5 197.5 L543.8 198.8 L542.0 212.5 L540.5 253.8 L539.0 241.2 L537.5 232.5 L535.8 245.0 L534.2 247.5 L532.5 255.0 L530.8 250.0 L529.2 265.0 L527.5 255.0 L525.8 256.2 L524.2 263.8 L522.5 255.0 L521.0 266.2 L519.2 260.0 L517.5 265.0 L515.8 257.5 L514.0 271.2 L512.5 260.0 L510.8 265.0 L509.2 256.2 L507.5 260.0 L505.8 252.5 L504.2 235.0 L502.5 240.0 L500.8 237.5 L499.2 242.5 L497.5 247.5 L495.8 240.0 L494.2 251.2 L492.5 242.5 L490.5 251.2 L488.8 247.5 L487.0 260.0 L485.8 250.0 L484.2 232.5 L482.5 256.2 L481.0 255.0 L479.2 247.5 L477.5 250.0 L475.8 237.5 L474.2 240.0 L472.5 225.0 L471.0 223.8 L469.2 241.2 L467.5 237.5 L465.8 240.0 L464.0 225.0 L462.5 235.0 L460.8 227.5 L459.2 245.0 L457.5 230.0 L455.8 241.2 L454.0 242.5 L452.5 261.2 L451.0 237.5 L449.2 243.8 L447.5 240.0 L445.8 246.2 L444.0 242.5 L442.5 232.5 L440.8 242.5 L439.2 230.0 L438.0 218.8 L436.8 232.5 L435.0 247.5 L433.0 250.0 L431.2 251.2 L429.5 253.8 L427.5 265.0 L425.5 255.0 L423.8 261.2 L421.8 257.5 L420.0 260.0 L418.0 255.0 L416.2 258.8 L414.5 253.8 L412.5 257.5 L410.8 252.5 L409.2 255.0 L407.5 250.0 L405.5 245.0 L403.8 260.0 L402.0 252.5 L400.5 240.0 L398.8 255.0 L397.0 232.5 L395.8 160.0 L394.5 205.0 L393.0 235.0 L391.2 230.0 L389.5 255.0 L388.0 247.5 L386.2 250.0 L384.2 260.0 L382.5 255.0 L380.5 251.2 L378.8 255.0 L377.0 253.8 L375.5 255.0 L373.8 262.5 L372.0 255.0 L370.5 252.5 L368.8 258.8 L367.0 268.8 L365.5 260.0 L363.8 251.2 L362.0 250.0 L360.5 258.8 L358.8 248.8 L357.0 246.2 L355.0 255.0 L353.0 246.2 L351.2 253.8 L349.2 243.8 L347.5 250.0 L345.5 238.8 L343.8 250.0 L342.0 245.0 L340.0 253.8 L338.8 235.0 L336.8 251.2 L335.0 227.5 L333.0 245.0 L331.2 260.0 L330.0 248.8 L328.0 241.2 L326.2 242.5 L324.2 232.5 L322.5 242.5 L320.5 236.2 L318.8 241.2 L317.0 227.5 L315.0 243.8 L313.0 226.2 L311.2 230.0 L309.5 222.5 L307.5 237.5 L305.5 225.0 L303.8 221.2 L302.0 215.0 L300.5 235.0 L299.2 208.8 L297.5 227.5 L295.5 218.8 L293.8 231.2 L292.0 217.5 L290.0 226.2 L288.0 220.0 L286.2 226.2 L284.5 221.2 L282.5 225.0 L280.5 213.8 L278.8 212.5 L277.0 220.0 L275.0 212.5 L273.2 222.5 L271.2 231.2 L269.5 217.5 L267.5 205.0 L265.5 227.5 L263.8 222.5 L261.8 237.5 L260.0 226.2 L258.0 230.0 L256.2 222.5 L254.2 241.2 L252.5 220.0 L250.8 205.0 L249.5 182.5 L248.2 170.0 L247.0 162.5 L245.0 185.0 L243.8 182.5 L242.0 195.0 L240.0 192.5 L238.2 217.5 L236.8 230.0 L235.0 247.5 L233.8 230.0 L232.5 247.5 L230.5 237.5 L228.8 246.2 L227.0 232.5 L225.5 247.5 L223.8 235.0 L221.8 250.0 L220.0 240.0 L218.0 261.2 L216.8 245.0 L215.0 255.0 L213.0 241.2 L211.2 252.5 L209.5 248.8 L207.5 255.0 L205.8 253.8 L203.8 260.0 L202.0 251.2 L200.0 260.0 L198.0 255.0 L196.2 240.0 L194.2 255.0 L192.5 251.2 L190.8 263.8 L189.2 255.0 L187.5 242.5 L185.5 255.0 L183.8 241.2 L182.0 243.8 L180.0 241.2 L178.0 243.8 L176.2 250.0 L175.0 242.5 L173.8 251.2 L172.0 235.0 L170.0 228.8 L168.0 237.5 L166.2 232.5 L164.2 240.0 L162.5 237.5 L160.5 248.8 L158.8 246.2 L157.0 251.2 L155.5 242.5 L153.8 240.0 L151.8 248.8 L150.0 237.5 L148.0 243.8 L146.2 225.0 L144.5 231.2 L142.5 228.8 L140.5 236.2 L138.8 231.2 L137.0 238.8 L135.5 230.0 L133.8 213.8 L132.0 208.8 L130.5 225.0 L128.8 241.2 L127.0 220.0 L125.0 212.5 L123.0 230.0 L121.2 222.5 L119.5 227.5 L117.5 228.8 L116.2 240.0 L114.5 247.5 L112.5 193.8 L111.2 191.2 L109.2 187.5 L107.5 205.0 L106.2 200.0 L104.5 211.2 L102.5 207.5 L100.0 216.2 L97.5 208.8 L95.5 217.5 L93.8 213.8 L91.8 218.8 L90.0 205.0 L88.8 217.5 L87.0 205.0 L86.2 192.5 L85.2 165.0 L84.0 135.0 L83.0 113.8 L82.2 165.0 L81.5 187.5 L80.0 207.5 L77.5 201.2 L76.2 205.0 L73.8 230.0 L72.5 217.5 L71.2 205.0 L70.0 200.0 L68.8 217.5 L67.0 222.5 L65.0 242.5 L63.8 237.5 L61.2 253.8 L60.0 242.5 L57.5 252.5 L55.5 248.8 L53.8 252.5 L52.5 238.8 L50.0 243.8 L47.5 246.2 L45.5 247.5 L43.8 215.0 Z" fill="url(#gb)" stroke="none"/>
<path d="M43.8 290.0 L45.5 296.2 L47.0 295.0 L48.8 298.8 L50.5 296.2 L52.0 301.2 L53.8 298.8 L55.5 302.5 L57.0 300.0 L58.8 298.8 L60.5 297.5 L62.0 300.0 L63.8 295.0 L65.0 298.8 L67.0 295.0 L68.8 291.2 L70.5 295.0 L72.0 288.8 L73.8 292.5 L75.0 286.2 L76.8 291.2 L78.2 287.5 L80.0 288.8 L81.5 290.0 L83.0 203.0 L84.8 290.0 L86.2 297.5 L87.5 286.2 L88.8 290.0 L90.0 285.0 L91.8 297.5 L93.2 288.8 L95.0 291.2 L96.8 290.0 L98.2 295.0 L100.0 292.5 L101.8 295.0 L103.2 283.8 L104.5 282.0 L106.2 287.5 L108.0 286.2 L109.5 288.8 L111.2 286.2 L113.0 287.5 L114.5 301.2 L116.2 291.2 L118.0 295.0 L119.5 290.0 L121.2 292.5 L123.0 290.0 L125.0 295.0 L126.8 296.2 L128.2 297.5 L130.0 292.5 L131.8 288.8 L133.2 292.5 L135.0 290.0 L136.8 293.8 L138.2 291.2 L140.0 295.0 L141.8 293.8 L143.2 296.2 L145.0 293.8 L146.8 298.8 L148.2 296.2 L150.0 300.0 L151.8 297.5 L153.2 301.2 L155.0 298.8 L156.8 303.8 L158.2 297.5 L159.5 294.5 L161.2 300.0 L163.0 293.8 L164.5 297.5 L166.2 295.0 L168.0 297.5 L169.5 293.8 L171.2 298.8 L173.0 300.0 L174.5 297.5 L175.8 285.8 L177.0 300.0 L178.8 296.2 L180.5 298.8 L182.0 301.2 L183.8 297.5 L185.5 302.5 L187.0 298.8 L188.8 301.2 L190.5 303.8 L192.0 298.8 L193.8 303.8 L195.5 300.0 L197.0 302.5 L198.8 298.8 L200.5 301.2 L202.0 305.0 L203.8 301.2 L205.5 302.5 L207.0 298.8 L208.8 301.2 L210.5 300.0 L212.0 296.2 L213.8 302.5 L215.5 300.0 L217.0 302.5 L218.8 298.8 L220.5 301.2 L222.0 297.5 L223.8 298.8 L225.5 295.0 L227.0 298.8 L228.8 296.2 L230.5 300.0 L232.0 297.5 L233.2 298.8 L234.0 273.2 L235.0 297.5 L236.8 290.0 L238.2 286.2 L240.0 291.2 L241.5 285.0 L243.0 288.8 L244.5 282.5 L246.0 277.0 L247.5 277.5 L249.2 279.5 L250.8 278.8 L252.0 291.2 L253.8 293.8 L255.5 290.0 L257.0 295.0 L258.8 292.5 L260.5 297.5 L262.0 291.2 L263.8 296.2 L265.5 290.0 L267.0 293.8 L268.8 296.2 L270.5 288.8 L272.0 292.5 L273.8 291.2 L275.5 295.0 L277.0 288.8 L278.8 292.5 L280.5 288.8 L282.0 295.0 L283.8 292.5 L285.5 296.2 L287.0 290.0 L288.8 293.8 L290.5 291.2 L292.0 296.2 L293.8 290.0 L295.5 297.5 L297.0 291.2 L298.8 287.5 L300.5 295.0 L302.0 290.0 L303.8 286.2 L305.5 293.8 L307.0 297.5 L308.8 291.2 L310.5 296.2 L312.0 292.5 L313.8 297.5 L315.5 290.0 L317.0 296.2 L318.8 288.8 L320.5 296.2 L322.0 291.2 L323.2 287.5 L325.0 297.5 L326.8 298.8 L328.2 296.2 L330.0 301.2 L331.8 297.5 L333.2 295.0 L335.0 277.5 L336.2 297.5 L338.0 292.5 L339.5 300.0 L341.2 291.2 L343.0 297.5 L344.5 293.8 L346.2 300.0 L348.0 295.0 L349.5 301.2 L351.2 297.5 L353.0 300.0 L354.5 303.8 L356.2 298.8 L358.0 302.5 L359.5 297.5 L361.5 300.0 L363.0 303.8 L364.5 302.5 L366.2 301.2 L368.0 300.0 L369.5 302.5 L371.2 300.0 L373.0 302.5 L374.5 301.2 L376.2 303.8 L378.0 302.5 L379.5 301.2 L381.2 303.8 L383.0 300.0 L384.5 303.8 L386.2 301.2 L388.0 302.5 L389.5 300.0 L390.8 283.8 L392.0 301.2 L393.0 290.0 L394.8 212.0 L396.2 301.2 L397.5 300.0 L399.2 303.8 L400.8 301.2 L402.5 302.5 L404.2 300.0 L405.8 302.5 L407.5 301.2 L409.2 303.8 L410.8 301.2 L412.5 302.5 L414.2 301.2 L415.8 303.8 L417.5 301.2 L419.2 303.8 L420.8 301.2 L422.5 303.8 L424.2 302.5 L425.8 301.2 L427.5 303.8 L429.2 301.2 L430.8 303.8 L432.5 301.2 L434.2 300.0 L435.8 290.0 L436.8 269.5 L438.0 287.5 L439.5 295.0 L440.8 302.5 L442.5 298.8 L444.2 301.2 L445.8 297.5 L447.5 296.2 L449.2 294.5 L450.8 292.5 L452.0 306.2 L453.8 300.0 L455.5 297.5 L457.0 296.2 L458.8 297.5 L460.2 295.0 L462.0 298.8 L463.8 295.0 L465.2 296.2 L467.0 298.8 L468.8 296.2 L470.2 295.0 L472.0 297.5 L473.8 298.8 L475.2 300.0 L477.0 301.2 L478.8 302.5 L480.2 301.2 L482.0 305.0 L483.2 290.0 L484.2 278.8 L485.2 290.0 L486.5 303.8 L488.2 301.2 L490.0 302.5 L491.8 300.0 L493.2 302.5 L495.0 301.2 L496.8 302.5 L498.2 298.8 L500.0 301.2 L501.8 297.5 L503.2 296.2 L505.0 301.2 L506.8 303.8 L508.2 302.5 L510.0 303.8 L511.8 301.2 L513.2 303.8 L515.0 302.5 L516.8 303.8 L518.2 302.5 L520.0 303.8 L521.8 301.2 L523.2 305.0 L525.0 302.5 L526.8 303.8 L528.2 301.2 L530.0 303.8 L531.8 301.2 L533.2 302.5 L535.0 300.0 L536.8 300.0 L538.0 285.0 L539.2 256.2 L540.5 285.0 L542.0 287.5 L543.8 285.0 L545.5 282.5 L547.0 286.2 L548.8 283.8 L550.5 286.2 L552.0 282.5 L553.8 290.0 L555.5 285.0 L557.0 283.8 L558.8 291.2 L560.5 288.8 L562.0 293.8 L563.8 290.0 L565.5 295.0 L567.0 296.2 L568.8 293.8 L570.5 300.0 L572.0 295.0 L573.8 301.2 L575.0 291.2 L576.8 292.5 L578.2 298.8 L580.0 296.2 L581.8 300.0 L583.2 297.5 L585.0 295.0 L586.8 301.2 L588.2 298.8 L590.0 301.2 L591.8 300.0 L593.2 302.5 L595.0 300.0 L596.8 303.8 L598.2 301.2 L600.0 302.5 L601.8 298.8 L603.2 295.0 L605.0 293.8 L606.8 296.2 L608.2 290.0 L610.0 288.8 L611.8 285.0 L613.0 279.5 L614.5 288.8 L616.2 278.8 L617.5 287.5 L619.2 281.2 L620.8 288.8 L622.5 286.2 L624.2 288.8 L625.8 286.2 L627.5 291.2 L629.2 295.0 L630.8 292.5 L632.5 290.0 L634.2 295.0 L635.8 291.2 L637.5 295.0 L639.2 291.2 L640.8 293.8 L642.5 297.5 L644.2 295.0 L645.8 293.8 L647.5 296.2 L649.2 287.5 L650.8 282.5 L652.5 278.8 L653.8 267.5 L655.0 277.5 L656.2 271.2 L657.5 285.0 L659.2 290.0 L660.8 292.5 L662.5 297.5 L664.2 302.5 L665.8 296.2 L667.5 300.0 L669.2 295.0 L671.8 295.0 L673.2 291.2 L675.0 293.8 L676.8 290.0 L678.2 295.0 L680.0 290.0 L681.8 295.0 L683.2 298.8 L685.0 303.8 L686.8 297.5 L688.2 293.8 L690.0 296.2 L691.8 290.0 L693.2 292.5 L695.0 287.5 L696.8 291.2 L698.2 286.2 L700.0 288.8 L701.2 279.5 L702.5 290.0 L704.2 292.5 L705.8 283.8 L707.5 280.5 L709.2 290.0 L710.8 292.5 L712.5 295.0 L714.2 290.0 L715.8 293.8 L717.5 288.8 L719.2 292.5 L720.8 288.8 L722.5 293.8 L724.2 290.0 L725.8 285.0 L727.5 292.5 L729.2 290.0 L730.8 295.0 L732.5 286.2 L734.2 292.5 L735.8 296.2 L737.5 290.0 L739.2 295.0 L740.8 287.5 L742.0 273.0 L743.2 292.5 L745.0 302.5 L746.8 290.0 L748.2 282.5 L749.5 290.0 L751.2 292.5 L753.0 283.8 L754.5 286.2 L756.2 290.0 L758.0 292.5 L759.5 288.8 L761.2 287.5 L763.0 296.2 L764.5 293.8 L766.2 297.5 L768.0 295.0 L769.5 298.8 L771.2 300.0 L773.0 302.5 L774.5 305.0 L776.2 300.0 L778.0 303.8 L779.5 301.2 L781.2 303.8 L783.0 302.5 L784.5 303.8 L786.2 301.2 L788.0 302.5 L789.5 303.8 L791.2 301.2 L793.0 303.8 L794.5 300.0 L796.2 305.0 L798.0 301.2 L799.5 303.8 L801.2 298.8 L803.0 301.2 L804.5 300.0 L806.2 303.8 L808.0 301.2 L809.5 302.5 L811.2 296.2 L813.0 295.0 L814.5 302.5 L816.2 303.8 L818.0 301.2 L819.5 303.8 L821.2 300.0 L823.0 303.8 L824.5 301.2 L826.2 303.8 L828.0 302.5 L829.5 305.0 L831.2 302.5 L833.0 307.5 L834.5 301.2 L836.2 300.0 L838.0 303.8 L839.5 302.5 L841.2 303.8 L843.0 301.2 L844.2 279.5 L845.5 302.5 L847.0 305.0 L848.8 303.8 L850.5 305.0 L852.0 302.5 L853.8 306.2 L855.5 303.8 L857.0 302.5 L858.8 301.2 L860.5 296.2 L862.0 301.2 L863.8 303.8 L865.5 298.8 L867.0 302.5 L868.8 305.0 L870.5 302.5 L872.0 303.8 L873.8 301.2 L875.5 300.0 L877.0 296.2 L878.8 291.2 L880.5 293.8 L882.0 290.0 L883.8 285.0 L885.5 293.8 L887.0 290.0 L888.8 285.8 L890.5 292.5 L892.0 288.8 L893.8 290.0 L895.5 287.0 L897.0 291.2 L898.8 295.0 L900.5 298.8 L902.0 296.2 L903.8 298.8 L905.5 296.2 L907.0 300.0 L908.8 297.5 L910.5 301.2 L912.0 298.8 L913.8 301.2 L915.5 295.0 L917.0 301.2 L918.8 297.5 L920.5 296.2 L922.0 297.5 L923.8 293.8 L925.5 295.0 L927.0 288.8 L928.8 292.5 L930.5 290.0 L932.0 286.2 L933.8 295.0 L935.5 292.5 L937.0 297.5 L938.8 293.8 L940.5 298.8 L942.0 296.2 L943.8 290.0 L945.0 280.0 L946.8 287.5 L948.0 279.5 L949.5 292.5 L951.2 288.8 L953.0 290.0 L954.5 293.8 L956.2 291.2 L958.0 297.5 L959.5 300.0 L961.2 296.2 L963.0 298.8 L964.5 295.0 L966.2 297.5 L968.0 296.2 L969.5 301.2 L971.2 298.8 L973.0 302.5 L974.5 300.0 L976.2 298.8 L978.0 300.0 L979.5 297.5 L981.8 298.8 L983.2 293.8 L985.0 298.8 L986.8 296.2 L988.2 300.0 L990.0 295.0 L991.8 298.8 L993.2 301.2 L995.0 296.2 L996.8 301.2 L998.2 298.8 L1000.0 305.0 L1001.8 300.0 L1003.2 302.5 L1005.0 300.0 L1006.8 301.2 L1008.2 298.8 L1010.0 300.0 L1011.8 296.2 L1013.2 295.0 L1015.0 298.8 L1016.8 296.2 L1018.2 300.0 L1020.0 296.2 L1021.8 292.5 L1023.2 297.5 L1025.0 295.0 L1026.8 298.8 L1028.2 293.8 L1030.0 297.5 L1031.8 292.5 L1033.2 296.2 L1035.0 293.8 L1036.8 298.8 L1038.2 295.0 L1040.0 296.2 L1041.8 293.8 L1043.2 296.2 L1045.0 295.0 L1046.8 283.8 L1048.0 296.2 L1049.5 300.0 L1051.2 297.5 L1053.0 301.2 L1054.5 300.0 L1056.2 303.8 L1058.0 301.2 L1059.5 303.8 L1061.2 302.5 L1063.0 301.2 L1064.5 298.8 L1066.2 301.2 L1068.0 297.5 L1069.5 300.0 L1071.2 296.2 L1073.0 297.5 L1074.5 295.0 L1075.8 280.0 L1077.0 265.0 L1078.2 280.0 L1079.5 290.0 L1081.2 283.8 L1083.0 282.0 L1084.5 290.0 L1086.2 282.5 L1088.0 295.0 L1089.5 288.8 L1091.2 290.0 L1093.0 286.2 L1094.5 290.0 L1096.2 287.5 L1098.0 288.8 L1099.5 291.2 L1101.2 286.2 L1103.0 290.0 L1104.5 292.5 L1106.2 295.0 L1108.0 291.2 L1109.5 293.8 L1111.2 290.0 L1113.0 296.2 L1114.5 288.8 L1116.2 292.5 L1118.0 296.2 L1119.5 290.0 L1121.2 293.8 L1123.0 291.2 L1124.5 297.5 L1126.2 287.5 L1128.0 292.5 L1129.5 286.2 L1131.2 291.2 L1133.0 298.8 L1134.5 290.0 L1136.2 295.0 L1138.0 286.2 L1139.5 290.0 L1141.2 286.2 L1143.0 288.8 L1144.5 282.5 L1146.2 290.0 L1147.5 280.0 L1148.8 263.8 L1150.0 290.0 L1151.8 293.8 L1153.2 288.8 L1155.0 291.2 L1156.8 295.0 L1158.2 288.8 L1160.0 286.2 L1161.8 292.5 L1163.2 295.0 L1165.0 298.8 L1166.8 295.0 L1168.2 297.5 L1170.0 295.0 L1171.8 296.2 L1173.2 298.8 L1175.0 295.0 L1176.8 297.5 L1178.2 293.8 L1180.0 301.2 L1181.8 295.0 L1183.2 300.0 L1185.0 297.5 L1186.8 301.2 L1188.2 298.8 L1190.0 302.5 L1191.8 297.5 L1193.2 301.2 L1195.0 300.0 L1196.8 301.2 L1198.2 298.8 L1200.0 302.5 L1201.8 290.0 L1203.0 282.0 L1204.5 290.0 L1206.2 296.2 L1208.0 292.5 L1209.5 298.8 L1211.2 293.8 L1213.0 297.5 L1214.5 295.0 L1216.2 293.8 L1218.0 300.0 L1219.5 295.0 L1220.5 303.8 L1222.0 297.5 L1223.8 291.2 L1225.5 301.2 L1227.0 302.5 L1228.8 300.0 L1230.5 302.5 L1232.0 290.0 L1233.8 298.8 L1235.5 293.8 L1237.0 291.2 L1238.8 296.2 L1240.5 293.8 L1242.0 300.0 L1243.8 292.5 L1245.5 302.5 L1247.0 295.0 L1248.8 287.5 L1250.0 298.8 L1251.8 295.0 L1253.2 292.5 L1255.0 288.8 L1256.8 280.5 L1258.0 296.2 L1259.5 288.8 L1261.2 287.5 L1262.5 286.2 L1262.5 312.0 L43.8 312.0 Z" fill="url(#gg)" stroke="none"/>
<path d="M43.8 215.0 L45.5 247.5 L47.5 246.2 L50.0 243.8 L52.5 238.8 L53.8 252.5 L55.5 248.8 L57.5 252.5 L60.0 242.5 L61.2 253.8 L63.8 237.5 L65.0 242.5 L67.0 222.5 L68.8 217.5 L70.0 200.0 L71.2 205.0 L72.5 217.5 L73.8 230.0 L76.2 205.0 L77.5 201.2 L80.0 207.5 L81.5 187.5 L82.2 165.0 L83.0 113.8 L84.0 135.0 L85.2 165.0 L86.2 192.5 L87.0 205.0 L88.8 217.5 L90.0 205.0 L91.8 218.8 L93.8 213.8 L95.5 217.5 L97.5 208.8 L100.0 216.2 L102.5 207.5 L104.5 211.2 L106.2 200.0 L107.5 205.0 L109.2 187.5 L111.2 191.2 L112.5 193.8 L114.5 247.5 L116.2 240.0 L117.5 228.8 L119.5 227.5 L121.2 222.5 L123.0 230.0 L125.0 212.5 L127.0 220.0 L128.8 241.2 L130.5 225.0 L132.0 208.8 L133.8 213.8 L135.5 230.0 L137.0 238.8 L138.8 231.2 L140.5 236.2 L142.5 228.8 L144.5 231.2 L146.2 225.0 L148.0 243.8 L150.0 237.5 L151.8 248.8 L153.8 240.0 L155.5 242.5 L157.0 251.2 L158.8 246.2 L160.5 248.8 L162.5 237.5 L164.2 240.0 L166.2 232.5 L168.0 237.5 L170.0 228.8 L172.0 235.0 L173.8 251.2 L175.0 242.5 L176.2 250.0 L178.0 243.8 L180.0 241.2 L182.0 243.8 L183.8 241.2 L185.5 255.0 L187.5 242.5 L189.2 255.0 L190.8 263.8 L192.5 251.2 L194.2 255.0 L196.2 240.0 L198.0 255.0 L200.0 260.0 L202.0 251.2 L203.8 260.0 L205.8 253.8 L207.5 255.0 L209.5 248.8 L211.2 252.5 L213.0 241.2 L215.0 255.0 L216.8 245.0 L218.0 261.2 L220.0 240.0 L221.8 250.0 L223.8 235.0 L225.5 247.5 L227.0 232.5 L228.8 246.2 L230.5 237.5 L232.5 247.5 L233.8 230.0 L235.0 247.5 L236.8 230.0 L238.2 217.5 L240.0 192.5 L242.0 195.0 L243.8 182.5 L245.0 185.0 L247.0 162.5 L248.2 170.0 L249.5 182.5 L250.8 205.0 L252.5 220.0 L254.2 241.2 L256.2 222.5 L258.0 230.0 L260.0 226.2 L261.8 237.5 L263.8 222.5 L265.5 227.5 L267.5 205.0 L269.5 217.5 L271.2 231.2 L273.2 222.5 L275.0 212.5 L277.0 220.0 L278.8 212.5 L280.5 213.8 L282.5 225.0 L284.5 221.2 L286.2 226.2 L288.0 220.0 L290.0 226.2 L292.0 217.5 L293.8 231.2 L295.5 218.8 L297.5 227.5 L299.2 208.8 L300.5 235.0 L302.0 215.0 L303.8 221.2 L305.5 225.0 L307.5 237.5 L309.5 222.5 L311.2 230.0 L313.0 226.2 L315.0 243.8 L317.0 227.5 L318.8 241.2 L320.5 236.2 L322.5 242.5 L324.2 232.5 L326.2 242.5 L328.0 241.2 L330.0 248.8 L331.2 260.0 L333.0 245.0 L335.0 227.5 L336.8 251.2 L338.8 235.0 L340.0 253.8 L342.0 245.0 L343.8 250.0 L345.5 238.8 L347.5 250.0 L349.2 243.8 L351.2 253.8 L353.0 246.2 L355.0 255.0 L357.0 246.2 L358.8 248.8 L360.5 258.8 L362.0 250.0 L363.8 251.2 L365.5 260.0 L367.0 268.8 L368.8 258.8 L370.5 252.5 L372.0 255.0 L373.8 262.5 L375.5 255.0 L377.0 253.8 L378.8 255.0 L380.5 251.2 L382.5 255.0 L384.2 260.0 L386.2 250.0 L388.0 247.5 L389.5 255.0 L391.2 230.0 L393.0 235.0 L394.5 205.0 L395.8 160.0 L397.0 232.5 L398.8 255.0 L400.5 240.0 L402.0 252.5 L403.8 260.0 L405.5 245.0 L407.5 250.0 L409.2 255.0 L410.8 252.5 L412.5 257.5 L414.5 253.8 L416.2 258.8 L418.0 255.0 L420.0 260.0 L421.8 257.5 L423.8 261.2 L425.5 255.0 L427.5 265.0 L429.5 253.8 L431.2 251.2 L433.0 250.0 L435.0 247.5 L436.8 232.5 L438.0 218.8 L439.2 230.0 L440.8 242.5 L442.5 232.5 L444.0 242.5 L445.8 246.2 L447.5 240.0 L449.2 243.8 L451.0 237.5 L452.5 261.2 L454.0 242.5 L455.8 241.2 L457.5 230.0 L459.2 245.0 L460.8 227.5 L462.5 235.0 L464.0 225.0 L465.8 240.0 L467.5 237.5 L469.2 241.2 L471.0 223.8 L472.5 225.0 L474.2 240.0 L475.8 237.5 L477.5 250.0 L479.2 247.5 L481.0 255.0 L482.5 256.2 L484.2 232.5 L485.8 250.0 L487.0 260.0 L488.8 247.5 L490.5 251.2 L492.5 242.5 L494.2 251.2 L495.8 240.0 L497.5 247.5 L499.2 242.5 L500.8 237.5 L502.5 240.0 L504.2 235.0 L505.8 252.5 L507.5 260.0 L509.2 256.2 L510.8 265.0 L512.5 260.0 L514.0 271.2 L515.8 257.5 L517.5 265.0 L519.2 260.0 L521.0 266.2 L522.5 255.0 L524.2 263.8 L525.8 256.2 L527.5 255.0 L529.2 265.0 L530.8 250.0 L532.5 255.0 L534.2 247.5 L535.8 245.0 L537.5 232.5 L539.0 241.2 L540.5 253.8 L542.0 212.5 L543.8 198.8 L545.5 197.5 L547.5 190.0 L549.2 198.8 L551.2 200.0 L553.0 208.8 L555.0 202.5 L556.5 197.5 L558.0 195.0 L559.5 222.5 L561.2 217.5 L562.5 235.0 L564.2 225.0 L565.8 237.5 L567.5 230.0 L569.2 243.8 L571.0 237.5 L572.5 220.0 L574.2 250.0 L575.8 240.0 L577.5 248.8 L579.2 237.5 L580.8 247.5 L582.5 241.2 L584.2 251.2 L585.8 242.5 L587.5 253.8 L589.2 250.0 L590.8 255.0 L592.5 253.8 L594.2 257.5 L596.0 258.8 L597.5 250.0 L599.2 252.5 L600.8 246.2 L602.5 248.8 L604.2 227.5 L605.8 207.5 L607.5 212.5 L609.2 201.2 L610.8 212.5 L612.0 185.0 L613.2 210.0 L614.5 227.5 L616.2 205.0 L617.5 222.5 L619.2 205.0 L620.5 192.5 L622.0 210.0 L623.8 200.0 L625.0 208.8 L626.8 215.0 L628.2 212.5 L630.0 235.0 L631.8 220.0 L633.2 225.0 L635.0 217.5 L636.8 232.5 L638.2 222.5 L640.0 230.0 L641.8 225.0 L643.2 227.5 L645.0 215.0 L646.8 216.2 L648.2 230.0 L649.5 187.5 L651.2 190.0 L653.0 175.0 L654.5 180.0 L656.2 158.8 L658.0 227.5 L659.5 242.5 L661.2 270.0 L662.5 277.5 L664.2 250.0 L665.8 242.5 L667.5 237.5 L669.2 240.0 L670.5 217.5 L672.0 230.0 L673.8 210.0 L675.5 215.0 L677.0 207.5 L678.8 211.2 L680.0 185.0 L681.2 205.0 L682.5 235.0 L683.8 250.0 L685.0 261.2 L686.8 250.0 L688.2 230.0 L690.0 227.5 L691.8 217.5 L693.2 208.8 L695.0 205.0 L696.8 208.8 L698.2 203.8 L700.0 205.0 L701.8 201.2 L703.2 223.8 L705.0 202.5 L706.8 220.0 L708.2 203.8 L710.0 227.5 L711.8 225.0 L713.2 233.8 L715.0 222.5 L716.8 215.0 L718.2 225.0 L720.0 212.5 L721.8 217.5 L723.2 223.8 L725.0 208.8 L726.8 206.2 L728.2 217.5 L730.0 212.5 L731.8 230.0 L733.2 216.2 L735.0 220.0 L736.8 227.5 L738.2 217.5 L740.0 230.0 L741.5 201.2 L743.0 230.0 L745.0 241.2 L746.5 227.5 L748.0 230.0 L749.5 225.0 L751.2 225.0 L753.0 205.0 L754.5 203.8 L756.2 207.5 L758.0 222.5 L759.5 207.5 L761.0 205.0 L762.5 222.5 L764.0 230.0 L765.5 227.5 L767.0 236.2 L768.8 245.0 L770.2 255.0 L771.8 265.0 L773.2 257.5 L775.0 245.0 L776.5 260.0 L778.0 250.0 L779.5 262.5 L781.2 252.5 L782.8 260.0 L784.2 265.0 L785.8 257.5 L787.2 271.2 L788.8 262.5 L790.2 255.0 L791.8 248.8 L793.2 258.8 L795.0 251.2 L796.5 257.5 L798.0 250.0 L799.5 253.8 L801.2 246.2 L802.8 252.5 L804.2 250.0 L805.8 257.5 L807.5 251.2 L809.0 256.2 L810.5 252.5 L812.0 250.0 L813.5 246.2 L815.0 255.0 L816.5 261.2 L818.0 247.5 L819.5 253.8 L821.2 260.0 L822.8 251.2 L824.2 255.0 L825.8 261.2 L827.5 253.8 L829.0 257.5 L830.5 260.0 L832.0 267.5 L833.5 257.5 L835.0 255.0 L836.5 250.0 L838.0 260.0 L839.5 265.0 L841.0 257.5 L842.5 247.5 L844.0 260.0 L845.5 273.8 L847.0 262.5 L848.8 265.0 L850.2 257.5 L851.8 263.8 L853.2 255.0 L854.8 262.5 L856.2 257.5 L857.8 262.5 L859.2 252.5 L860.8 256.2 L862.2 248.8 L863.8 240.0 L865.2 241.2 L866.8 255.0 L868.2 267.5 L869.8 260.0 L871.2 262.5 L872.8 250.0 L874.2 255.0 L875.8 230.0 L877.5 215.0 L879.0 208.8 L880.5 211.2 L882.0 197.5 L883.8 182.5 L885.2 200.0 L886.8 210.0 L888.2 192.5 L889.8 202.5 L891.2 195.0 L892.8 205.0 L894.2 213.8 L895.8 201.2 L897.5 220.0 L899.0 227.5 L900.5 238.8 L902.0 230.0 L903.8 236.2 L905.2 231.2 L906.8 240.0 L908.2 248.8 L910.0 237.5 L911.5 241.2 L913.0 251.2 L914.5 246.2 L916.2 253.8 L917.8 237.5 L919.2 220.0 L920.8 205.0 L922.5 212.5 L924.0 201.2 L925.5 205.0 L927.0 200.0 L928.8 207.5 L930.2 200.0 L931.8 192.5 L933.2 201.2 L935.0 206.2 L936.5 227.5 L938.0 215.0 L939.5 212.5 L941.2 227.5 L942.8 237.5 L944.2 217.5 L945.8 198.8 L947.5 205.0 L949.0 235.0 L950.5 228.8 L952.0 231.2 L953.8 218.8 L955.2 230.0 L956.8 222.5 L958.2 235.0 L960.0 227.5 L961.5 245.0 L963.0 235.0 L964.5 241.2 L966.2 235.0 L967.8 243.8 L969.2 242.5 L970.8 257.5 L972.5 245.0 L974.0 250.0 L975.5 258.8 L977.0 251.2 L978.8 257.5 L981.0 250.0 L982.5 240.0 L984.2 227.5 L985.8 225.0 L987.5 235.0 L989.0 223.8 L990.5 222.5 L992.0 212.5 L993.5 217.5 L995.0 226.2 L996.5 227.5 L998.0 237.5 L999.5 248.8 L1001.0 240.0 L1002.5 251.2 L1004.0 250.0 L1005.5 253.8 L1007.0 255.0 L1008.8 252.5 L1010.2 250.0 L1011.8 246.2 L1013.2 235.0 L1014.8 242.5 L1016.2 238.8 L1017.8 232.5 L1019.2 235.0 L1020.8 237.5 L1022.2 225.0 L1023.8 227.5 L1025.2 228.8 L1026.8 205.0 L1028.2 238.8 L1029.8 227.5 L1031.2 237.5 L1032.8 217.5 L1034.2 220.0 L1035.8 215.0 L1037.2 222.5 L1038.8 221.2 L1040.2 237.5 L1041.8 225.0 L1043.2 228.8 L1044.8 235.0 L1046.2 215.0 L1047.8 232.5 L1049.2 252.5 L1050.8 263.8 L1052.2 250.0 L1053.8 260.0 L1055.2 248.8 L1056.8 258.8 L1058.2 253.8 L1059.8 257.5 L1061.2 265.0 L1062.8 255.0 L1064.2 250.0 L1065.8 245.0 L1067.2 248.8 L1068.8 247.5 L1070.2 250.0 L1071.8 237.5 L1073.2 232.5 L1074.8 227.5 L1076.2 207.5 L1077.8 192.5 L1079.2 207.5 L1080.8 187.5 L1081.8 172.5 L1083.2 190.0 L1084.8 192.5 L1086.2 202.5 L1087.8 222.5 L1089.2 213.8 L1090.2 242.5 L1091.8 205.0 L1093.2 185.0 L1094.2 178.8 L1095.8 210.0 L1097.2 197.5 L1098.8 206.2 L1100.2 201.2 L1101.8 212.5 L1103.2 227.5 L1104.8 207.5 L1106.2 233.8 L1107.8 217.5 L1109.2 207.5 L1110.8 228.8 L1112.2 212.5 L1113.8 207.5 L1115.2 225.0 L1116.8 215.0 L1118.2 205.0 L1119.8 212.5 L1121.2 225.0 L1122.8 232.5 L1124.2 210.0 L1125.8 197.5 L1127.2 212.5 L1128.8 252.5 L1130.2 237.5 L1131.8 248.8 L1133.2 220.0 L1134.8 225.0 L1136.2 210.0 L1137.8 212.5 L1139.2 218.8 L1140.8 187.5 L1142.2 195.0 L1143.8 176.2 L1145.2 205.0 L1146.8 173.8 L1148.2 205.0 L1149.2 180.0 L1150.8 240.0 L1152.2 221.2 L1153.8 208.8 L1155.2 203.8 L1156.8 217.5 L1158.2 201.2 L1159.8 222.5 L1161.2 211.2 L1162.8 220.0 L1164.2 215.0 L1165.8 230.0 L1167.2 210.0 L1168.8 230.0 L1170.2 208.8 L1171.8 220.0 L1173.2 215.0 L1174.8 221.2 L1176.2 217.5 L1177.8 225.0 L1179.2 220.0 L1180.8 228.8 L1182.2 218.8 L1183.8 230.0 L1185.2 232.5 L1186.8 242.5 L1188.2 237.5 L1189.8 247.5 L1191.2 256.2 L1192.8 250.0 L1194.2 248.8 L1195.8 252.5 L1197.2 246.2 L1198.8 240.0 L1200.2 235.0 L1201.8 220.0 L1203.2 212.5 L1204.8 241.2 L1206.2 220.0 L1207.8 226.2 L1209.2 240.0 L1210.8 215.0 L1212.2 230.0 L1213.8 220.0 L1215.2 232.5 L1216.8 207.5 L1218.2 211.2 L1219.8 251.2 L1221.2 225.0 L1222.8 210.0 L1224.2 225.0 L1225.8 252.5 L1226.8 267.5 L1228.2 255.0 L1229.8 260.0 L1231.2 247.5 L1232.8 255.0 L1233.8 227.5 L1235.2 217.5 L1236.8 228.8 L1238.2 210.0 L1239.8 200.0 L1241.2 227.5 L1242.8 196.2 L1244.2 232.5 L1245.8 205.0 L1247.2 215.0 L1248.8 180.0 L1250.2 232.5 L1251.8 208.8 L1253.2 228.8 L1254.8 202.5 L1256.2 185.0 L1257.8 220.0 L1259.2 195.0 L1260.8 212.5 L1262.2 207.5" stroke="#C99B02" stroke-width="2"/>
<path d="M43.8 192.5 L45.5 215.0 L47.5 227.5 L49.5 230.0 L51.2 237.5 L52.5 202.5 L53.8 228.8 L55.5 222.5 L57.0 228.8 L58.8 222.5 L60.5 220.0 L62.0 236.2 L63.8 210.0 L65.0 215.0 L67.0 192.5 L68.8 200.0 L70.5 157.5 L72.0 180.0 L73.2 187.5 L75.0 167.5 L76.8 160.0 L78.8 172.5 L80.0 177.5 L81.2 160.0 L82.2 155.0 L83.0 82.5 L84.0 105.0 L85.2 130.0 L86.2 162.5 L87.5 182.5 L89.2 176.2 L91.0 190.0 L92.5 185.0 L94.5 178.8 L96.2 180.0 L98.0 177.5 L100.0 195.0 L101.8 182.5 L103.8 170.0 L105.5 180.0 L107.5 162.5 L109.2 155.0 L111.2 158.8 L113.0 160.0 L114.5 231.2 L116.2 205.0 L118.0 197.5 L120.0 200.0 L122.0 185.0 L123.8 195.0 L125.5 186.2 L127.5 222.5 L129.2 202.5 L131.2 185.0 L133.0 183.8 L134.5 186.2 L136.2 208.8 L138.0 203.8 L139.5 217.5 L141.2 203.8 L143.0 212.5 L144.5 202.5 L146.2 198.8 L148.0 220.0 L149.5 230.0 L151.2 215.0 L153.0 232.5 L154.5 220.0 L156.2 225.0 L157.5 241.2 L159.2 211.2 L161.2 227.5 L163.0 211.2 L165.0 213.8 L166.8 208.8 L168.5 215.0 L170.0 198.8 L172.0 211.2 L174.2 237.5 L175.8 178.8 L177.0 217.5 L178.8 227.5 L180.5 226.2 L182.5 225.0 L184.2 221.2 L186.0 230.0 L187.5 222.5 L189.2 236.2 L190.8 245.0 L192.5 227.5 L194.0 212.5 L195.5 230.0 L197.5 222.5 L199.2 237.5 L201.2 228.8 L202.5 243.8 L204.2 235.0 L206.2 236.2 L208.0 231.2 L210.0 235.0 L211.5 228.8 L213.0 218.8 L215.0 232.5 L216.5 230.0 L218.0 241.2 L219.5 225.0 L221.2 220.0 L223.0 227.5 L224.5 216.2 L226.2 222.5 L227.5 210.0 L229.2 216.2 L231.2 222.5 L233.0 215.0 L234.0 160.0 L235.0 230.0 L236.8 205.0 L238.8 185.0 L240.5 162.5 L242.0 170.0 L243.8 167.5 L245.5 147.5 L247.0 118.0 L248.8 131.2 L250.8 155.0 L252.0 170.0 L252.5 190.0 L254.2 217.5 L255.5 197.5 L257.5 198.8 L259.2 212.5 L261.2 195.0 L263.0 208.8 L265.0 195.0 L267.0 180.0 L268.8 178.8 L270.5 190.0 L272.0 208.8 L273.8 187.5 L275.5 185.0 L277.5 198.8 L279.5 182.5 L281.2 190.0 L283.0 201.2 L285.0 198.8 L286.8 203.8 L288.8 193.8 L290.5 207.5 L292.5 196.2 L294.5 205.0 L296.2 192.5 L298.8 177.5 L300.0 215.0 L301.2 183.8 L303.0 191.2 L304.5 201.2 L306.2 198.8 L308.0 211.2 L310.0 200.0 L311.8 215.0 L313.8 203.8 L315.5 221.2 L317.5 207.5 L319.5 225.0 L321.2 217.5 L322.5 212.5 L324.5 212.5 L326.2 221.2 L328.0 222.5 L330.0 230.0 L331.2 235.0 L333.0 227.5 L335.0 140.0 L336.8 230.0 L338.8 210.0 L340.5 230.0 L342.5 235.0 L344.5 212.5 L346.2 227.5 L348.0 222.5 L350.0 230.0 L351.8 225.0 L353.8 230.0 L355.5 227.5 L357.5 237.5 L359.2 232.5 L360.5 230.0 L362.0 243.8 L363.8 237.5 L365.5 242.5 L367.0 251.2 L368.8 230.0 L370.5 241.2 L372.0 247.5 L373.8 237.5 L375.0 232.5 L376.8 245.0 L378.2 235.0 L380.0 237.5 L381.8 241.2 L383.2 243.8 L385.0 235.0 L386.8 245.0 L388.2 230.0 L390.0 227.5 L391.0 183.8 L392.0 227.5 L393.2 180.0 L395.8 108.0 L397.0 180.0 L398.0 225.0 L399.0 240.0 L400.0 212.5 L401.8 230.0 L403.2 242.5 L405.0 232.5 L406.8 223.8 L408.2 222.5 L410.0 237.5 L411.8 232.5 L413.2 242.5 L415.0 245.0 L416.8 240.0 L418.2 246.2 L420.0 242.5 L421.8 247.5 L423.2 243.8 L425.0 241.2 L426.8 240.0 L428.2 248.8 L430.0 230.0 L431.8 231.2 L433.2 227.5 L435.0 228.8 L436.0 210.0 L436.8 134.2 L438.0 192.5 L439.5 220.0 L440.8 222.5 L442.2 215.0 L443.8 203.8 L445.2 222.5 L447.0 225.0 L448.8 221.2 L450.5 222.5 L451.8 242.5 L453.2 230.0 L455.0 227.5 L456.5 213.8 L458.0 207.5 L459.2 217.5 L460.8 202.5 L462.0 215.0 L463.2 203.8 L465.0 208.8 L466.5 225.0 L468.0 220.0 L469.5 218.8 L471.0 196.2 L472.5 220.0 L474.0 174.5 L475.0 205.0 L476.5 227.5 L478.0 242.5 L479.5 240.0 L481.2 245.0 L482.8 235.0 L484.2 212.5 L485.5 227.5 L487.0 251.2 L488.5 232.5 L490.0 230.0 L491.8 225.0 L493.2 230.0 L495.0 227.5 L496.8 232.5 L498.2 235.0 L500.0 227.5 L501.8 222.5 L503.2 220.0 L505.0 211.2 L506.5 237.5 L508.0 245.0 L509.5 242.5 L511.2 248.8 L512.8 243.8 L514.2 255.0 L515.8 240.0 L517.5 248.8 L519.0 242.5 L520.8 245.0 L522.5 255.0 L524.2 230.0 L525.8 245.0 L527.5 232.5 L529.0 242.5 L530.5 230.0 L532.0 245.0 L533.8 227.5 L535.0 222.5 L536.5 217.5 L538.0 222.5 L539.0 76.2 L540.5 242.5 L542.0 200.0 L543.8 185.0 L545.5 168.8 L547.5 157.5 L549.2 162.5 L550.8 160.0 L552.5 167.5 L554.2 166.2 L555.8 175.0 L557.5 170.0 L558.8 191.2 L560.5 201.2 L562.0 215.0 L563.8 200.0 L565.5 217.5 L567.0 205.0 L568.8 213.8 L570.2 220.0 L572.0 195.0 L573.2 195.0 L574.5 227.5 L576.2 230.0 L578.0 212.5 L579.5 220.0 L581.2 225.0 L583.0 228.8 L584.5 222.5 L586.2 232.5 L588.0 235.0 L589.5 233.8 L591.2 240.0 L593.0 237.5 L594.5 241.2 L596.2 242.5 L598.0 232.5 L599.5 235.0 L601.2 230.0 L602.5 235.0 L604.2 210.0 L605.8 178.8 L607.5 202.5 L609.2 187.5 L610.8 175.0 L612.5 145.0 L614.0 180.0 L615.5 160.0 L617.0 141.2 L618.5 182.5 L620.0 160.0 L621.5 192.5 L623.0 177.5 L624.2 168.8 L625.8 187.5 L627.0 180.0 L628.2 195.0 L629.5 205.0 L631.2 200.0 L633.0 212.5 L634.5 207.5 L636.0 192.5 L637.5 211.2 L639.2 205.0 L640.8 212.5 L642.5 206.2 L644.2 207.5 L645.8 202.5 L647.0 187.5 L648.2 210.0 L649.5 140.0 L651.2 160.0 L653.8 121.2 L655.2 142.5 L657.0 120.0 L658.8 160.0 L660.0 222.5 L661.8 270.0 L663.0 197.5 L664.5 237.5 L665.8 197.5 L667.0 176.2 L668.2 225.0 L669.5 205.0 L670.5 185.0 L672.0 220.0 L673.8 151.2 L675.5 190.0 L677.0 182.5 L678.8 187.5 L680.5 156.2 L682.0 192.5 L683.2 235.0 L685.0 250.0 L686.8 230.0 L688.2 207.5 L690.0 201.2 L691.8 202.5 L693.2 187.5 L695.0 178.8 L696.8 180.0 L698.2 177.5 L700.0 178.8 L701.8 180.0 L703.2 198.8 L705.5 166.2 L707.5 165.0 L709.0 197.5 L710.8 206.2 L712.5 205.0 L714.2 197.5 L715.8 213.8 L717.5 192.5 L719.2 190.0 L720.8 197.5 L722.5 203.8 L724.2 191.2 L725.8 182.5 L727.0 180.0 L728.8 193.8 L730.5 202.5 L732.0 191.2 L733.8 198.8 L735.5 202.5 L737.0 208.8 L738.8 200.0 L740.5 215.0 L741.8 141.2 L743.0 187.5 L744.5 217.5 L745.8 227.5 L747.0 212.5 L748.8 215.0 L750.0 200.0 L751.5 187.5 L753.0 178.8 L754.5 178.8 L756.2 180.0 L758.0 193.8 L759.5 182.5 L761.0 200.0 L761.8 182.5 L763.0 207.5 L764.5 205.0 L766.2 212.5 L767.8 227.5 L769.2 230.0 L770.8 242.5 L772.5 243.8 L774.0 242.5 L775.5 230.0 L777.0 242.5 L778.5 251.2 L780.0 236.2 L781.5 240.0 L783.0 247.5 L784.5 241.2 L786.0 257.5 L787.5 250.0 L789.0 240.0 L790.5 242.5 L792.0 237.5 L793.5 242.5 L795.0 235.0 L796.5 237.5 L798.0 240.0 L799.5 232.5 L801.0 226.2 L802.5 235.0 L804.0 230.0 L805.5 237.5 L807.0 232.5 L808.5 238.8 L810.0 232.5 L811.5 235.0 L813.0 230.0 L814.5 237.5 L816.0 245.0 L817.8 227.5 L819.2 235.0 L820.8 242.5 L822.2 232.5 L823.8 237.5 L825.2 241.2 L827.0 236.2 L828.5 242.5 L830.0 235.0 L831.5 252.5 L833.0 240.0 L834.5 237.5 L836.0 231.2 L837.5 241.2 L839.0 248.8 L840.5 246.2 L842.0 250.0 L843.2 247.5 L844.2 145.0 L845.5 262.5 L847.0 252.5 L848.5 245.0 L850.0 251.2 L851.5 240.0 L853.0 247.5 L854.5 237.5 L856.0 250.0 L857.5 240.0 L859.0 232.5 L860.5 236.2 L862.0 230.0 L863.8 213.8 L865.2 222.5 L866.8 227.5 L868.2 252.5 L869.8 242.5 L871.2 245.0 L872.8 242.5 L874.2 247.5 L875.8 217.5 L877.5 190.0 L879.0 176.2 L880.5 195.0 L882.0 182.5 L883.8 138.2 L885.5 177.5 L887.0 170.0 L888.5 165.0 L890.5 160.0 L892.0 171.2 L893.5 177.5 L895.0 173.8 L896.5 180.0 L898.0 197.5 L899.2 205.0 L900.8 215.0 L902.2 211.2 L903.8 213.8 L905.2 207.5 L906.8 220.0 L908.2 215.0 L910.0 213.8 L911.5 230.0 L913.0 227.5 L914.5 236.2 L916.2 218.8 L917.8 222.5 L919.2 205.0 L920.8 202.5 L922.5 190.0 L924.0 192.5 L925.5 178.8 L927.0 176.2 L928.8 173.8 L930.2 175.0 L931.8 171.2 L933.8 171.2 L935.0 176.2 L936.5 192.5 L938.0 190.0 L939.5 197.5 L941.2 200.0 L942.8 205.0 L944.0 197.5 L945.0 147.5 L946.5 170.0 L948.0 145.0 L949.0 215.0 L950.5 205.0 L952.0 207.5 L953.8 200.0 L955.2 201.2 L956.8 206.2 L958.2 208.8 L960.0 210.0 L961.5 220.0 L963.0 215.0 L964.5 222.5 L966.2 215.0 L967.8 227.5 L969.2 222.5 L970.8 235.0 L972.5 222.5 L974.0 237.5 L975.5 230.0 L977.0 242.5 L978.8 241.2 L980.5 242.5 L982.0 237.5 L983.5 220.0 L985.0 201.2 L986.0 197.5 L987.5 210.0 L989.0 195.0 L990.5 190.0 L992.0 188.8 L993.0 183.8 L994.5 202.5 L996.0 212.5 L997.5 220.0 L999.0 227.5 L1000.5 232.5 L1002.0 230.0 L1003.0 218.8 L1004.5 237.5 L1006.0 235.0 L1007.5 236.2 L1009.0 232.5 L1010.5 230.0 L1012.0 227.5 L1013.0 197.5 L1014.2 220.0 L1015.8 220.0 L1017.2 216.2 L1018.8 211.2 L1020.2 215.0 L1021.8 197.5 L1023.2 205.0 L1024.5 202.5 L1025.8 205.0 L1026.8 171.2 L1028.0 215.0 L1029.2 205.0 L1030.8 208.8 L1032.0 183.8 L1033.2 202.5 L1034.8 197.5 L1036.2 205.0 L1037.0 192.5 L1038.5 197.5 L1040.0 202.5 L1041.5 207.5 L1043.0 206.2 L1044.5 212.5 L1046.0 207.5 L1047.0 164.2 L1048.2 227.5 L1049.8 251.2 L1051.2 227.5 L1052.8 242.5 L1054.2 230.0 L1055.8 245.0 L1057.2 237.5 L1058.8 232.5 L1060.2 240.0 L1061.5 251.2 L1063.0 230.0 L1064.5 222.5 L1066.0 227.5 L1067.5 226.2 L1069.0 226.2 L1070.5 226.2 L1071.8 208.8 L1073.2 206.2 L1074.8 195.0 L1076.5 164.5 L1078.0 182.5 L1079.5 167.5 L1081.0 134.2 L1082.5 165.0 L1084.0 156.2 L1085.5 162.5 L1087.0 180.0 L1088.2 200.0 L1089.2 185.0 L1090.2 221.2 L1091.8 175.0 L1093.0 165.0 L1094.0 140.0 L1095.8 165.0 L1097.2 177.5 L1098.2 162.5 L1099.5 170.0 L1100.5 190.0 L1101.8 173.8 L1103.2 205.0 L1105.0 173.8 L1106.5 205.0 L1108.0 173.8 L1109.0 172.5 L1110.5 201.2 L1112.0 182.5 L1113.5 202.5 L1115.5 173.8 L1117.0 196.2 L1118.8 176.2 L1120.2 180.0 L1121.8 202.5 L1123.8 159.5 L1125.2 162.5 L1126.5 177.5 L1127.8 172.5 L1129.0 237.5 L1130.5 210.0 L1132.0 187.5 L1133.5 227.5 L1135.0 165.0 L1136.5 180.0 L1137.8 148.8 L1139.2 177.5 L1140.5 147.5 L1141.8 136.2 L1143.2 170.0 L1144.8 138.2 L1146.2 175.0 L1147.8 142.5 L1149.0 119.2 L1150.5 177.5 L1151.2 220.0 L1152.2 200.0 L1153.8 185.0 L1155.2 183.8 L1156.8 200.0 L1158.2 185.0 L1159.2 153.2 L1160.8 187.5 L1162.2 192.5 L1163.8 200.0 L1165.2 197.5 L1166.8 185.0 L1168.2 200.0 L1169.8 171.2 L1171.2 192.5 L1172.8 187.5 L1174.2 200.0 L1175.8 186.2 L1177.2 195.0 L1178.8 198.8 L1180.2 196.2 L1181.8 201.2 L1183.2 197.5 L1184.8 215.0 L1186.2 210.0 L1187.8 227.5 L1189.2 220.0 L1190.8 230.0 L1192.2 237.5 L1193.8 228.8 L1195.2 230.0 L1196.8 227.5 L1198.2 230.0 L1199.8 220.0 L1201.2 205.0 L1202.8 155.0 L1204.2 210.0 L1205.8 195.0 L1207.2 225.0 L1208.8 202.5 L1210.0 186.2 L1211.5 217.5 L1213.0 195.0 L1214.5 187.5 L1216.0 175.0 L1217.5 176.2 L1219.0 215.0 L1220.5 187.5 L1222.0 210.0 L1223.0 187.5 L1224.0 145.0 L1225.8 225.0 L1227.2 252.5 L1228.8 237.5 L1230.2 241.2 L1231.8 205.0 L1233.0 237.5 L1234.5 200.0 L1236.0 202.5 L1237.5 167.5 L1239.0 197.5 L1241.0 161.2 L1242.5 192.5 L1244.5 165.0 L1245.8 172.5 L1246.8 197.5 L1248.2 117.5 L1249.5 125.0 L1250.5 215.0 L1251.8 165.0 L1253.2 197.5 L1254.8 167.5 L1256.2 148.2 L1257.8 185.0 L1259.2 160.0 L1260.8 182.5 L1262.2 177.5" stroke="#1250B0" stroke-width="2"/>
<path d="M43.5 312.0 L45.2 311.3 L46.9 312.0 L48.6 311.0 L50.3 312.0 L51.9 312.0 L53.6 311.0 L55.3 312.0 L57.0 311.0 L58.7 312.0 L60.4 311.0 L62.1 311.0 L63.8 312.0 L65.5 312.0 L67.2 311.3 L68.8 312.0 L70.5 312.0 L72.2 312.0 L73.9 312.0 L75.6 312.0 L77.3 312.0 L79.0 311.0 L80.7 312.0 L81.6 311.9 L82.4 288.0 L85.4 289.0 L86.2 311.9 L87.4 312.0 L89.1 312.0 L90.8 311.3 L92.5 312.0 L94.2 312.0 L95.9 312.0 L97.6 312.0 L99.3 311.0 L101.0 311.0 L102.6 312.0 L104.3 312.0 L106.0 312.0 L107.7 312.0 L109.4 312.0 L111.1 312.0 L112.8 312.0 L114.5 312.0 L116.2 312.0 L117.9 312.0 L119.5 312.0 L121.2 312.0 L122.9 312.0 L124.6 312.0 L126.3 312.0 L128.0 312.0 L129.7 311.0 L131.4 312.0 L133.1 312.0 L134.8 311.3 L136.4 312.0 L138.1 311.0 L139.8 312.0 L141.5 312.0 L143.2 312.0 L144.9 312.0 L146.6 312.0 L148.3 312.0 L150.0 312.0 L151.7 312.0 L153.3 312.0 L155.0 312.0 L156.7 312.0 L158.4 312.0 L160.1 312.0 L161.8 311.0 L163.5 312.0 L165.2 312.0 L166.9 312.0 L168.6 312.0 L170.2 312.0 L171.9 312.0 L173.6 312.0 L174.5 311.9 L175.8 307.6 L177.0 311.9 L178.7 311.3 L180.4 311.0 L182.1 311.0 L183.8 312.0 L185.5 311.3 L187.1 312.0 L188.8 312.0 L190.5 312.0 L192.2 311.0 L193.9 312.0 L195.6 312.0 L197.3 312.0 L199.0 312.0 L200.7 312.0 L202.4 312.0 L204.0 312.0 L205.7 312.0 L207.4 312.0 L209.1 312.0 L210.8 311.3 L212.5 311.3 L214.2 312.0 L215.9 312.0 L217.6 312.0 L219.3 312.0 L220.9 312.0 L222.6 311.0 L224.3 312.0 L226.0 312.0 L227.7 312.0 L229.4 312.0 L231.1 312.0 L232.8 312.0 L234.5 312.0 L236.2 312.0 L237.8 311.0 L239.5 312.0 L241.2 312.0 L242.9 312.0 L244.6 312.0 L246.3 312.0 L248.0 312.0 L249.7 311.0 L251.4 312.0 L253.1 311.0 L254.7 311.0 L256.4 312.0 L258.1 311.3 L259.8 312.0 L261.5 311.0 L263.2 311.0 L264.9 311.3 L266.6 311.0 L268.3 312.0 L270.0 311.0 L271.6 312.0 L273.3 312.0 L275.0 311.3 L276.7 312.0 L278.4 312.0 L280.1 312.0 L281.8 311.3 L283.5 312.0 L285.2 312.0 L286.9 312.0 L288.5 312.0 L290.2 311.0 L291.9 311.0 L293.6 312.0 L295.3 312.0 L297.0 312.0 L298.7 311.3 L300.4 311.0 L302.1 312.0 L303.8 312.0 L305.4 311.3 L307.1 312.0 L308.8 311.0 L310.5 312.0 L312.2 312.0 L313.9 312.0 L315.6 312.0 L317.3 312.0 L319.0 312.0 L320.7 311.3 L322.3 312.0 L324.0 312.0 L325.7 312.0 L327.4 312.0 L329.1 312.0 L330.8 312.0 L332.5 312.0 L334.2 312.0 L335.9 312.0 L337.6 312.0 L339.2 312.0 L340.9 312.0 L342.6 312.0 L343.5 311.9 L344.6 308.0 L345.8 311.9 L347.7 311.0 L349.4 312.0 L351.1 312.0 L352.8 312.0 L354.5 312.0 L356.1 312.0 L357.8 312.0 L359.5 312.0 L361.2 312.0 L362.9 312.0 L364.6 312.0 L366.3 312.0 L368.0 311.3 L369.7 312.0 L371.4 312.0 L373.0 312.0 L374.7 312.0 L376.4 312.0 L378.1 312.0 L379.8 312.0 L381.5 311.0 L383.2 312.0 L384.9 312.0 L386.6 312.0 L388.3 312.0 L389.5 311.9 L391.5 303.0 L393.2 300.0 L394.2 288.0 L396.3 289.0 L397.2 311.9 L398.4 312.0 L400.1 312.0 L401.8 312.0 L403.5 312.0 L405.2 312.0 L406.8 311.3 L408.5 311.3 L410.2 311.3 L411.9 312.0 L413.6 312.0 L415.3 311.3 L417.0 312.0 L418.7 312.0 L420.4 312.0 L422.1 312.0 L423.7 312.0 L425.4 311.3 L427.1 311.0 L428.8 312.0 L430.5 312.0 L432.2 312.0 L433.9 312.0 L435.6 312.0 L437.3 312.0 L439.0 312.0 L440.6 312.0 L442.3 312.0 L444.0 312.0 L445.7 312.0 L447.4 312.0 L448.8 309.0 L450.0 311.9 L450.8 312.0 L452.5 311.3 L454.2 312.0 L455.9 312.0 L457.5 312.0 L459.2 312.0 L460.9 312.0 L462.6 312.0 L464.3 312.0 L466.0 312.0 L467.7 312.0 L469.4 312.0 L471.1 311.0 L472.8 312.0 L474.4 311.3 L476.1 311.0 L477.8 312.0 L479.5 311.3 L481.2 312.0 L482.5 311.9 L484.2 302.8 L486.0 311.9 L486.3 312.0 L488.0 312.0 L489.7 312.0 L491.3 312.0 L493.0 311.0 L494.7 312.0 L496.4 312.0 L498.1 312.0 L499.8 312.0 L501.5 312.0 L503.2 312.0 L504.9 312.0 L506.6 312.0 L508.2 312.0 L509.9 312.0 L511.6 312.0 L513.3 312.0 L515.0 312.0 L516.7 312.0 L518.4 312.0 L520.1 312.0 L521.8 312.0 L523.5 312.0 L525.1 312.0 L526.8 312.0 L528.5 312.0 L530.2 312.0 L531.9 312.0 L533.6 312.0 L535.3 311.3 L537.0 311.3 L538.7 312.0 L540.4 311.0 L542.1 312.0 L543.7 311.0 L545.4 312.0 L547.1 312.0 L548.8 312.0 L550.5 311.3 L552.2 312.0 L553.9 312.0 L555.6 311.3 L557.3 312.0 L559.0 312.0 L560.6 312.0 L562.3 312.0 L564.0 312.0 L565.7 312.0 L567.4 312.0 L569.1 312.0 L570.8 311.3 L572.5 312.0 L574.2 312.0 L575.9 312.0 L577.5 311.3 L579.2 312.0 L580.9 312.0 L582.6 311.0 L584.3 312.0 L586.0 312.0 L587.7 311.0 L589.4 312.0 L591.1 312.0 L592.8 312.0 L594.4 311.0 L596.1 312.0 L597.8 312.0 L599.5 312.0 L601.2 311.0 L602.9 312.0 L604.6 311.0 L606.3 312.0 L608.0 312.0 L609.7 311.3 L611.3 312.0 L613.0 312.0 L614.7 312.0 L616.4 312.0 L618.1 311.3 L619.8 312.0 L621.5 312.0 L623.2 312.0 L624.9 311.0 L626.6 311.0 L628.2 312.0 L629.9 312.0 L631.6 311.0 L633.3 312.0 L635.0 312.0 L636.7 312.0 L638.4 311.0 L640.1 312.0 L641.8 311.0 L643.5 312.0 L645.1 312.0 L646.8 312.0 L648.5 312.0 L650.2 312.0 L651.9 312.0 L653.6 311.3 L655.3 312.0 L657.0 312.0 L658.7 311.0 L660.4 311.3 L662.0 311.0 L663.7 312.0 L665.4 312.0 L667.1 312.0 L668.8 312.0 L670.5 312.0 L672.2 312.0 L673.9 311.3 L675.6 312.0 L677.3 311.0 L678.9 312.0 L680.6 311.0 L682.3 312.0 L684.0 312.0 L685.7 311.3 L687.4 312.0 L689.1 312.0 L690.8 311.0 L692.5 312.0 L694.2 312.0 L695.8 312.0 L697.5 312.0 L699.2 312.0 L700.9 312.0 L702.6 312.0 L704.3 312.0 L706.0 312.0 L707.7 312.0 L709.4 312.0 L711.1 312.0 L712.7 312.0 L714.4 312.0 L716.1 311.0 L717.8 311.3 L719.5 311.0 L721.2 312.0 L722.9 312.0 L724.6 311.3 L726.3 311.0 L728.0 312.0 L729.6 312.0 L731.3 312.0 L733.0 312.0 L734.7 312.0 L736.4 312.0 L738.1 312.0 L739.8 311.3 L741.5 312.0 L743.2 312.0 L744.9 312.0 L746.5 312.0 L748.2 312.0 L749.9 312.0 L751.6 312.0 L753.3 312.0 L755.0 312.0 L756.7 311.0 L758.4 312.0 L760.1 312.0 L761.8 312.0 L763.4 312.0 L765.1 312.0 L766.8 311.0 L768.5 312.0 L770.2 311.0 L771.9 312.0 L773.6 311.0 L775.3 311.0 L777.0 312.0 L778.7 312.0 L780.3 312.0 L782.0 312.0 L783.7 312.0 L785.4 312.0 L787.1 312.0 L788.8 312.0 L790.5 312.0 L792.2 312.0 L793.9 312.0 L795.6 311.3 L797.2 312.0 L798.9 312.0 L800.6 311.0 L802.3 312.0 L804.0 312.0 L805.7 312.0 L807.4 312.0 L809.1 312.0 L810.8 311.3 L812.5 312.0 L814.1 312.0 L815.8 312.0 L817.5 312.0 L819.2 312.0 L820.9 312.0 L822.6 312.0 L824.3 312.0 L826.0 312.0 L827.7 312.0 L829.4 311.0 L831.0 311.3 L832.7 312.0 L834.4 311.0 L836.1 312.0 L837.8 312.0 L839.5 312.0 L841.2 312.0 L842.9 312.0 L844.6 312.0 L846.3 311.0 L847.9 312.0 L849.6 312.0 L851.3 312.0 L853.0 312.0 L854.7 312.0 L856.4 311.0 L858.1 312.0 L859.8 312.0 L861.5 311.0 L863.2 312.0 L864.8 312.0 L866.5 312.0 L868.2 312.0 L869.9 312.0 L871.6 312.0 L873.3 312.0 L875.0 312.0 L876.7 312.0 L878.4 312.0 L880.1 312.0 L881.7 312.0 L883.4 311.0 L885.1 311.3 L886.8 312.0 L888.5 312.0 L890.2 312.0 L891.9 312.0 L893.6 311.0 L895.3 311.0 L897.0 312.0 L898.6 312.0 L900.3 312.0 L902.0 312.0 L903.7 312.0 L905.4 312.0 L907.1 312.0 L908.8 312.0 L910.5 311.0 L912.2 312.0 L913.9 311.3 L915.5 312.0 L917.2 312.0 L918.9 311.0 L920.6 312.0 L922.3 312.0 L924.0 312.0 L925.7 312.0 L927.4 312.0 L929.1 312.0 L930.8 312.0 L932.4 312.0 L934.1 312.0 L935.8 311.3 L937.5 312.0 L939.2 312.0 L940.9 311.3 L942.6 312.0 L944.3 312.0 L946.0 312.0 L947.7 312.0 L949.3 312.0 L951.0 312.0 L952.7 312.0 L954.4 311.0 L956.1 311.0 L957.8 312.0 L959.5 312.0 L961.2 312.0 L962.9 311.3 L964.6 312.0 L966.2 312.0 L967.9 312.0 L969.6 311.0 L971.3 312.0 L973.0 312.0 L974.7 311.3 L976.4 312.0 L978.1 312.0 L979.8 312.0 L981.5 312.0 L983.1 312.0 L984.8 312.0 L986.5 312.0 L988.2 312.0 L989.9 312.0 L991.6 312.0 L993.3 312.0 L995.0 311.0 L996.7 311.0 L998.4 312.0 L1000.0 312.0 L1001.7 312.0 L1003.4 312.0 L1005.1 312.0 L1006.8 312.0 L1008.5 311.3 L1010.2 312.0 L1011.9 312.0 L1013.6 312.0 L1015.3 312.0 L1016.9 312.0 L1018.6 312.0 L1020.3 312.0 L1022.0 312.0 L1023.7 312.0 L1025.4 311.0 L1027.1 312.0 L1028.8 312.0 L1030.5 312.0 L1032.2 312.0 L1033.8 312.0 L1035.5 311.0 L1037.2 312.0 L1038.9 311.3 L1040.6 312.0 L1042.3 312.0 L1044.0 312.0 L1045.7 312.0 L1047.4 312.0 L1049.1 312.0 L1050.7 312.0 L1052.4 312.0 L1054.1 312.0 L1055.8 312.0 L1057.5 311.3 L1059.2 311.3 L1060.9 312.0 L1062.6 312.0 L1064.3 312.0 L1066.0 312.0 L1067.6 312.0 L1069.3 312.0 L1071.0 312.0 L1072.7 311.3 L1074.4 311.3 L1074.8 311.9 L1076.6 283.0 L1078.6 311.9 L1079.5 311.0 L1081.2 312.0 L1082.9 312.0 L1084.5 312.0 L1086.2 312.0 L1087.9 312.0 L1089.6 312.0 L1091.3 312.0 L1093.0 312.0 L1094.7 312.0 L1096.4 312.0 L1098.1 311.0 L1099.8 312.0 L1101.4 312.0 L1103.1 311.3 L1104.8 312.0 L1106.5 312.0 L1108.2 312.0 L1109.9 312.0 L1111.6 312.0 L1113.3 312.0 L1115.0 312.0 L1116.7 312.0 L1118.3 312.0 L1120.0 312.0 L1121.7 312.0 L1123.4 311.0 L1125.1 311.0 L1126.8 312.0 L1128.5 312.0 L1130.2 312.0 L1131.9 312.0 L1133.6 311.0 L1135.2 312.0 L1136.9 312.0 L1138.6 312.0 L1140.3 312.0 L1142.0 312.0 L1143.7 312.0 L1145.4 311.0 L1147.1 311.3 L1148.8 312.0 L1150.5 312.0 L1152.1 312.0 L1153.8 312.0 L1155.5 312.0 L1157.2 312.0 L1158.9 312.0 L1160.6 312.0 L1162.3 311.0 L1164.0 312.0 L1165.7 312.0 L1167.4 312.0 L1169.0 312.0 L1170.7 312.0 L1171.5 311.9 L1172.6 309.4 L1173.8 311.9 L1175.8 312.0 L1177.5 312.0 L1179.2 311.0 L1180.9 311.0 L1182.6 312.0 L1184.3 312.0 L1185.9 312.0 L1187.6 312.0 L1189.3 312.0 L1191.0 311.0 L1192.7 312.0 L1194.4 312.0 L1196.1 312.0 L1197.8 312.0 L1199.5 312.0 L1201.2 312.0 L1202.8 312.0 L1204.5 312.0 L1206.2 312.0 L1207.9 312.0 L1209.6 312.0 L1211.3 311.0 L1213.0 312.0 L1214.7 312.0 L1216.4 312.0 L1218.1 312.0 L1219.7 312.0 L1221.4 312.0 L1223.1 312.0 L1224.8 311.0 L1226.5 312.0 L1228.2 312.0 L1229.9 312.0 L1231.6 311.3 L1233.3 312.0 L1235.0 312.0 L1236.6 312.0 L1238.3 312.0 L1240.0 312.0 L1241.7 312.0 L1243.4 312.0 L1245.1 312.0 L1246.8 312.0 L1248.5 312.0 L1250.2 312.0 L1251.9 312.0 L1253.5 312.0 L1255.2 311.3 L1256.9 312.0 L1258.6 312.0 L1260.3 312.0 L1262.0 312.0" stroke="#E02B41" stroke-width="2.4"/>
<path d="M43.8 290.0 L45.5 296.2 L47.0 295.0 L48.8 298.8 L50.5 296.2 L52.0 301.2 L53.8 298.8 L55.5 302.5 L57.0 300.0 L58.8 298.8 L60.5 297.5 L62.0 300.0 L63.8 295.0 L65.0 298.8 L67.0 295.0 L68.8 291.2 L70.5 295.0 L72.0 288.8 L73.8 292.5 L75.0 286.2 L76.8 291.2 L78.2 287.5 L80.0 288.8 L81.5 290.0 L83.0 203.0 L84.8 290.0 L86.2 297.5 L87.5 286.2 L88.8 290.0 L90.0 285.0 L91.8 297.5 L93.2 288.8 L95.0 291.2 L96.8 290.0 L98.2 295.0 L100.0 292.5 L101.8 295.0 L103.2 283.8 L104.5 282.0 L106.2 287.5 L108.0 286.2 L109.5 288.8 L111.2 286.2 L113.0 287.5 L114.5 301.2 L116.2 291.2 L118.0 295.0 L119.5 290.0 L121.2 292.5 L123.0 290.0 L125.0 295.0 L126.8 296.2 L128.2 297.5 L130.0 292.5 L131.8 288.8 L133.2 292.5 L135.0 290.0 L136.8 293.8 L138.2 291.2 L140.0 295.0 L141.8 293.8 L143.2 296.2 L145.0 293.8 L146.8 298.8 L148.2 296.2 L150.0 300.0 L151.8 297.5 L153.2 301.2 L155.0 298.8 L156.8 303.8 L158.2 297.5 L159.5 294.5 L161.2 300.0 L163.0 293.8 L164.5 297.5 L166.2 295.0 L168.0 297.5 L169.5 293.8 L171.2 298.8 L173.0 300.0 L174.5 297.5 L175.8 285.8 L177.0 300.0 L178.8 296.2 L180.5 298.8 L182.0 301.2 L183.8 297.5 L185.5 302.5 L187.0 298.8 L188.8 301.2 L190.5 303.8 L192.0 298.8 L193.8 303.8 L195.5 300.0 L197.0 302.5 L198.8 298.8 L200.5 301.2 L202.0 305.0 L203.8 301.2 L205.5 302.5 L207.0 298.8 L208.8 301.2 L210.5 300.0 L212.0 296.2 L213.8 302.5 L215.5 300.0 L217.0 302.5 L218.8 298.8 L220.5 301.2 L222.0 297.5 L223.8 298.8 L225.5 295.0 L227.0 298.8 L228.8 296.2 L230.5 300.0 L232.0 297.5 L233.2 298.8 L234.0 273.2 L235.0 297.5 L236.8 290.0 L238.2 286.2 L240.0 291.2 L241.5 285.0 L243.0 288.8 L244.5 282.5 L246.0 277.0 L247.5 277.5 L249.2 279.5 L250.8 278.8 L252.0 291.2 L253.8 293.8 L255.5 290.0 L257.0 295.0 L258.8 292.5 L260.5 297.5 L262.0 291.2 L263.8 296.2 L265.5 290.0 L267.0 293.8 L268.8 296.2 L270.5 288.8 L272.0 292.5 L273.8 291.2 L275.5 295.0 L277.0 288.8 L278.8 292.5 L280.5 288.8 L282.0 295.0 L283.8 292.5 L285.5 296.2 L287.0 290.0 L288.8 293.8 L290.5 291.2 L292.0 296.2 L293.8 290.0 L295.5 297.5 L297.0 291.2 L298.8 287.5 L300.5 295.0 L302.0 290.0 L303.8 286.2 L305.5 293.8 L307.0 297.5 L308.8 291.2 L310.5 296.2 L312.0 292.5 L313.8 297.5 L315.5 290.0 L317.0 296.2 L318.8 288.8 L320.5 296.2 L322.0 291.2 L323.2 287.5 L325.0 297.5 L326.8 298.8 L328.2 296.2 L330.0 301.2 L331.8 297.5 L333.2 295.0 L335.0 277.5 L336.2 297.5 L338.0 292.5 L339.5 300.0 L341.2 291.2 L343.0 297.5 L344.5 293.8 L346.2 300.0 L348.0 295.0 L349.5 301.2 L351.2 297.5 L353.0 300.0 L354.5 303.8 L356.2 298.8 L358.0 302.5 L359.5 297.5 L361.5 300.0 L363.0 303.8 L364.5 302.5 L366.2 301.2 L368.0 300.0 L369.5 302.5 L371.2 300.0 L373.0 302.5 L374.5 301.2 L376.2 303.8 L378.0 302.5 L379.5 301.2 L381.2 303.8 L383.0 300.0 L384.5 303.8 L386.2 301.2 L388.0 302.5 L389.5 300.0 L390.8 283.8 L392.0 301.2 L393.0 290.0 L394.8 212.0 L396.2 301.2 L397.5 300.0 L399.2 303.8 L400.8 301.2 L402.5 302.5 L404.2 300.0 L405.8 302.5 L407.5 301.2 L409.2 303.8 L410.8 301.2 L412.5 302.5 L414.2 301.2 L415.8 303.8 L417.5 301.2 L419.2 303.8 L420.8 301.2 L422.5 303.8 L424.2 302.5 L425.8 301.2 L427.5 303.8 L429.2 301.2 L430.8 303.8 L432.5 301.2 L434.2 300.0 L435.8 290.0 L436.8 269.5 L438.0 287.5 L439.5 295.0 L440.8 302.5 L442.5 298.8 L444.2 301.2 L445.8 297.5 L447.5 296.2 L449.2 294.5 L450.8 292.5 L452.0 306.2 L453.8 300.0 L455.5 297.5 L457.0 296.2 L458.8 297.5 L460.2 295.0 L462.0 298.8 L463.8 295.0 L465.2 296.2 L467.0 298.8 L468.8 296.2 L470.2 295.0 L472.0 297.5 L473.8 298.8 L475.2 300.0 L477.0 301.2 L478.8 302.5 L480.2 301.2 L482.0 305.0 L483.2 290.0 L484.2 278.8 L485.2 290.0 L486.5 303.8 L488.2 301.2 L490.0 302.5 L491.8 300.0 L493.2 302.5 L495.0 301.2 L496.8 302.5 L498.2 298.8 L500.0 301.2 L501.8 297.5 L503.2 296.2 L505.0 301.2 L506.8 303.8 L508.2 302.5 L510.0 303.8 L511.8 301.2 L513.2 303.8 L515.0 302.5 L516.8 303.8 L518.2 302.5 L520.0 303.8 L521.8 301.2 L523.2 305.0 L525.0 302.5 L526.8 303.8 L528.2 301.2 L530.0 303.8 L531.8 301.2 L533.2 302.5 L535.0 300.0 L536.8 300.0 L538.0 285.0 L539.2 256.2 L540.5 285.0 L542.0 287.5 L543.8 285.0 L545.5 282.5 L547.0 286.2 L548.8 283.8 L550.5 286.2 L552.0 282.5 L553.8 290.0 L555.5 285.0 L557.0 283.8 L558.8 291.2 L560.5 288.8 L562.0 293.8 L563.8 290.0 L565.5 295.0 L567.0 296.2 L568.8 293.8 L570.5 300.0 L572.0 295.0 L573.8 301.2 L575.0 291.2 L576.8 292.5 L578.2 298.8 L580.0 296.2 L581.8 300.0 L583.2 297.5 L585.0 295.0 L586.8 301.2 L588.2 298.8 L590.0 301.2 L591.8 300.0 L593.2 302.5 L595.0 300.0 L596.8 303.8 L598.2 301.2 L600.0 302.5 L601.8 298.8 L603.2 295.0 L605.0 293.8 L606.8 296.2 L608.2 290.0 L610.0 288.8 L611.8 285.0 L613.0 279.5 L614.5 288.8 L616.2 278.8 L617.5 287.5 L619.2 281.2 L620.8 288.8 L622.5 286.2 L624.2 288.8 L625.8 286.2 L627.5 291.2 L629.2 295.0 L630.8 292.5 L632.5 290.0 L634.2 295.0 L635.8 291.2 L637.5 295.0 L639.2 291.2 L640.8 293.8 L642.5 297.5 L644.2 295.0 L645.8 293.8 L647.5 296.2 L649.2 287.5 L650.8 282.5 L652.5 278.8 L653.8 267.5 L655.0 277.5 L656.2 271.2 L657.5 285.0 L659.2 290.0 L660.8 292.5 L662.5 297.5 L664.2 302.5 L665.8 296.2 L667.5 300.0 L669.2 295.0 L671.8 295.0 L673.2 291.2 L675.0 293.8 L676.8 290.0 L678.2 295.0 L680.0 290.0 L681.8 295.0 L683.2 298.8 L685.0 303.8 L686.8 297.5 L688.2 293.8 L690.0 296.2 L691.8 290.0 L693.2 292.5 L695.0 287.5 L696.8 291.2 L698.2 286.2 L700.0 288.8 L701.2 279.5 L702.5 290.0 L704.2 292.5 L705.8 283.8 L707.5 280.5 L709.2 290.0 L710.8 292.5 L712.5 295.0 L714.2 290.0 L715.8 293.8 L717.5 288.8 L719.2 292.5 L720.8 288.8 L722.5 293.8 L724.2 290.0 L725.8 285.0 L727.5 292.5 L729.2 290.0 L730.8 295.0 L732.5 286.2 L734.2 292.5 L735.8 296.2 L737.5 290.0 L739.2 295.0 L740.8 287.5 L742.0 273.0 L743.2 292.5 L745.0 302.5 L746.8 290.0 L748.2 282.5 L749.5 290.0 L751.2 292.5 L753.0 283.8 L754.5 286.2 L756.2 290.0 L758.0 292.5 L759.5 288.8 L761.2 287.5 L763.0 296.2 L764.5 293.8 L766.2 297.5 L768.0 295.0 L769.5 298.8 L771.2 300.0 L773.0 302.5 L774.5 305.0 L776.2 300.0 L778.0 303.8 L779.5 301.2 L781.2 303.8 L783.0 302.5 L784.5 303.8 L786.2 301.2 L788.0 302.5 L789.5 303.8 L791.2 301.2 L793.0 303.8 L794.5 300.0 L796.2 305.0 L798.0 301.2 L799.5 303.8 L801.2 298.8 L803.0 301.2 L804.5 300.0 L806.2 303.8 L808.0 301.2 L809.5 302.5 L811.2 296.2 L813.0 295.0 L814.5 302.5 L816.2 303.8 L818.0 301.2 L819.5 303.8 L821.2 300.0 L823.0 303.8 L824.5 301.2 L826.2 303.8 L828.0 302.5 L829.5 305.0 L831.2 302.5 L833.0 307.5 L834.5 301.2 L836.2 300.0 L838.0 303.8 L839.5 302.5 L841.2 303.8 L843.0 301.2 L844.2 279.5 L845.5 302.5 L847.0 305.0 L848.8 303.8 L850.5 305.0 L852.0 302.5 L853.8 306.2 L855.5 303.8 L857.0 302.5 L858.8 301.2 L860.5 296.2 L862.0 301.2 L863.8 303.8 L865.5 298.8 L867.0 302.5 L868.8 305.0 L870.5 302.5 L872.0 303.8 L873.8 301.2 L875.5 300.0 L877.0 296.2 L878.8 291.2 L880.5 293.8 L882.0 290.0 L883.8 285.0 L885.5 293.8 L887.0 290.0 L888.8 285.8 L890.5 292.5 L892.0 288.8 L893.8 290.0 L895.5 287.0 L897.0 291.2 L898.8 295.0 L900.5 298.8 L902.0 296.2 L903.8 298.8 L905.5 296.2 L907.0 300.0 L908.8 297.5 L910.5 301.2 L912.0 298.8 L913.8 301.2 L915.5 295.0 L917.0 301.2 L918.8 297.5 L920.5 296.2 L922.0 297.5 L923.8 293.8 L925.5 295.0 L927.0 288.8 L928.8 292.5 L930.5 290.0 L932.0 286.2 L933.8 295.0 L935.5 292.5 L937.0 297.5 L938.8 293.8 L940.5 298.8 L942.0 296.2 L943.8 290.0 L945.0 280.0 L946.8 287.5 L948.0 279.5 L949.5 292.5 L951.2 288.8 L953.0 290.0 L954.5 293.8 L956.2 291.2 L958.0 297.5 L959.5 300.0 L961.2 296.2 L963.0 298.8 L964.5 295.0 L966.2 297.5 L968.0 296.2 L969.5 301.2 L971.2 298.8 L973.0 302.5 L974.5 300.0 L976.2 298.8 L978.0 300.0 L979.5 297.5 L981.8 298.8 L983.2 293.8 L985.0 298.8 L986.8 296.2 L988.2 300.0 L990.0 295.0 L991.8 298.8 L993.2 301.2 L995.0 296.2 L996.8 301.2 L998.2 298.8 L1000.0 305.0 L1001.8 300.0 L1003.2 302.5 L1005.0 300.0 L1006.8 301.2 L1008.2 298.8 L1010.0 300.0 L1011.8 296.2 L1013.2 295.0 L1015.0 298.8 L1016.8 296.2 L1018.2 300.0 L1020.0 296.2 L1021.8 292.5 L1023.2 297.5 L1025.0 295.0 L1026.8 298.8 L1028.2 293.8 L1030.0 297.5 L1031.8 292.5 L1033.2 296.2 L1035.0 293.8 L1036.8 298.8 L1038.2 295.0 L1040.0 296.2 L1041.8 293.8 L1043.2 296.2 L1045.0 295.0 L1046.8 283.8 L1048.0 296.2 L1049.5 300.0 L1051.2 297.5 L1053.0 301.2 L1054.5 300.0 L1056.2 303.8 L1058.0 301.2 L1059.5 303.8 L1061.2 302.5 L1063.0 301.2 L1064.5 298.8 L1066.2 301.2 L1068.0 297.5 L1069.5 300.0 L1071.2 296.2 L1073.0 297.5 L1074.5 295.0 L1075.8 280.0 L1077.0 265.0 L1078.2 280.0 L1079.5 290.0 L1081.2 283.8 L1083.0 282.0 L1084.5 290.0 L1086.2 282.5 L1088.0 295.0 L1089.5 288.8 L1091.2 290.0 L1093.0 286.2 L1094.5 290.0 L1096.2 287.5 L1098.0 288.8 L1099.5 291.2 L1101.2 286.2 L1103.0 290.0 L1104.5 292.5 L1106.2 295.0 L1108.0 291.2 L1109.5 293.8 L1111.2 290.0 L1113.0 296.2 L1114.5 288.8 L1116.2 292.5 L1118.0 296.2 L1119.5 290.0 L1121.2 293.8 L1123.0 291.2 L1124.5 297.5 L1126.2 287.5 L1128.0 292.5 L1129.5 286.2 L1131.2 291.2 L1133.0 298.8 L1134.5 290.0 L1136.2 295.0 L1138.0 286.2 L1139.5 290.0 L1141.2 286.2 L1143.0 288.8 L1144.5 282.5 L1146.2 290.0 L1147.5 280.0 L1148.8 263.8 L1150.0 290.0 L1151.8 293.8 L1153.2 288.8 L1155.0 291.2 L1156.8 295.0 L1158.2 288.8 L1160.0 286.2 L1161.8 292.5 L1163.2 295.0 L1165.0 298.8 L1166.8 295.0 L1168.2 297.5 L1170.0 295.0 L1171.8 296.2 L1173.2 298.8 L1175.0 295.0 L1176.8 297.5 L1178.2 293.8 L1180.0 301.2 L1181.8 295.0 L1183.2 300.0 L1185.0 297.5 L1186.8 301.2 L1188.2 298.8 L1190.0 302.5 L1191.8 297.5 L1193.2 301.2 L1195.0 300.0 L1196.8 301.2 L1198.2 298.8 L1200.0 302.5 L1201.8 290.0 L1203.0 282.0 L1204.5 290.0 L1206.2 296.2 L1208.0 292.5 L1209.5 298.8 L1211.2 293.8 L1213.0 297.5 L1214.5 295.0 L1216.2 293.8 L1218.0 300.0 L1219.5 295.0 L1220.5 303.8 L1222.0 297.5 L1223.8 291.2 L1225.5 301.2 L1227.0 302.5 L1228.8 300.0 L1230.5 302.5 L1232.0 290.0 L1233.8 298.8 L1235.5 293.8 L1237.0 291.2 L1238.8 296.2 L1240.5 293.8 L1242.0 300.0 L1243.8 292.5 L1245.5 302.5 L1247.0 295.0 L1248.8 287.5 L1250.0 298.8 L1251.8 295.0 L1253.2 292.5 L1255.0 288.8 L1256.8 280.5 L1258.0 296.2 L1259.5 288.8 L1261.2 287.5 L1262.5 286.2" stroke="#19730E" stroke-width="2"/>
</g>
<g class="ax" text-anchor="end">
<text x="37" y="73.1" textLength="22.7" lengthAdjust="spacing">12%</text><text x="37" y="113.6" textLength="23.1" lengthAdjust="spacing">10%</text><text x="37" y="154.1" textLength="18.2" lengthAdjust="spacing">8%</text><text x="37" y="194.6" textLength="18.2" lengthAdjust="spacing">6%</text><text x="37" y="235.1" textLength="18.5" lengthAdjust="spacing">4%</text><text x="37" y="275.6" textLength="17.9" lengthAdjust="spacing">2%</text><text x="37" y="316.1" textLength="18.3" lengthAdjust="spacing">0%</text>
</g>
<g class="ax" text-anchor="middle">
<text x="97" y="331" textLength="27.1" lengthAdjust="spacing">17:10</text><text x="164.75" y="331" textLength="29.4" lengthAdjust="spacing">17:20</text><text x="232.5" y="331" textLength="29.7" lengthAdjust="spacing">17:30</text><text x="300.25" y="331" textLength="30.0" lengthAdjust="spacing">17:40</text><text x="368" y="331" textLength="29.6" lengthAdjust="spacing">17:50</text><text x="435.75" y="331" textLength="30.6" lengthAdjust="spacing">18:00</text><text x="503.5" y="331" textLength="27.9" lengthAdjust="spacing">18:10</text><text x="571.25" y="331" textLength="30.1" lengthAdjust="spacing">18:20</text><text x="639" y="331" textLength="30.4" lengthAdjust="spacing">18:30</text><text x="706.75" y="331" textLength="30.8" lengthAdjust="spacing">18:40</text><text x="774.5" y="331" textLength="30.3" lengthAdjust="spacing">18:50</text><text x="842.25" y="331" textLength="30.6" lengthAdjust="spacing">19:00</text><text x="910" y="331" textLength="27.9" lengthAdjust="spacing">19:10</text><text x="977.75" y="331" textLength="30.2" lengthAdjust="spacing">19:20</text><text x="1045.5" y="331" textLength="30.5" lengthAdjust="spacing">19:30</text><text x="1113.25" y="331" textLength="30.8" lengthAdjust="spacing">19:40</text><text x="1181" y="331" textLength="30.4" lengthAdjust="spacing">19:50</text><text x="1248.75" y="331" textLength="33.0" lengthAdjust="spacing">20:00</text>
</g>
</svg>
<div id="legend">
<div class="hd" style="left:30px">Name</div>
<div class="hd" style="text-align:right;right:212.5px">Mean</div><div class="hd" style="text-align:right;right:131.5px">Last *<svg style="position:static;vertical-align:-1px;margin-left:2px" width="8" height="8" viewBox="0 0 8 8"><path d="M1.5 3L4 5.5L6.5 3" fill="none" stroke="#1f62e0" stroke-width="1.1"/></svg></div><div class="hd" style="text-align:right;right:69.5px">Max</div><div class="hd" style="text-align:right;right:9.75px">Min</div>
<div class="row" style="top:24px"><div class="ic" style="top:10px;background:#CC9D00"></div><div class="nm">system</div><div class="v c1" style="letter-spacing:-0.05px;margin-right:0.05px">3.16%</div><div class="v c2" style="letter-spacing:0.47px;margin-right:-0.47px">3.98%</div><div class="v c3" style="letter-spacing:0.48px;margin-right:-0.48px">6.39%</div><div class="v c4" style="letter-spacing:-0.12px;margin-right:0.12px">1.23%</div></div>
<div class="row" style="top:48px"><div class="ic" style="top:10px;background:#1250B0"></div><div class="nm">user</div><div class="v c1" style="letter-spacing:-0.64px;margin-right:0.64px">1.12%</div><div class="v c2" style="letter-spacing:-0.03px;margin-right:0.03px">1.45%</div><div class="v c3" style="letter-spacing:-0.15px;margin-right:0.15px">2.51%</div><div class="v c4" style="letter-spacing:0.40px;margin-right:-0.40px">0.378%</div></div>
<div class="row" style="top:72px"><div class="ic" style="background:#A352CC"></div><div class="nm">softirq</div><div class="v c1" style="letter-spacing:-0.06px;margin-right:0.06px">0.751%</div><div class="v c2" style="letter-spacing:-0.10px;margin-right:0.10px">1.20%</div><div class="v c3" style="letter-spacing:-0.27px;margin-right:0.27px">2.71%</div><div class="v c4" style="letter-spacing:0.50px;margin-right:-0.50px">0.206%</div></div>
<div class="row" style="top:96px"><div class="ic" style="background:#3274D9"></div><div class="nm">iowait</div><div class="v c1" style="letter-spacing:-0.13px;margin-right:0.13px">0.0411%</div><div class="v c2" style="letter-spacing:0.13px;margin-right:-0.13px">0.0174%</div><div class="v c3" style="letter-spacing:0.43px;margin-right:-0.43px">5.42%</div><div class="v c4" style="letter-spacing:0.48px;margin-right:-0.48px">0%</div></div>
<div class="row" style="top:120px"><div class="ic" style="background:#56A64B"></div><div class="nm">guest</div><div class="v c1" style="letter-spacing:0.48px;margin-right:-0.48px">0%</div><div class="v c2" style="letter-spacing:0.48px;margin-right:-0.48px">0%</div><div class="v c3" style="letter-spacing:0.48px;margin-right:-0.48px">0%</div><div class="v c4" style="letter-spacing:0.48px;margin-right:-0.48px">0%</div></div>
<div class="row" style="top:144px"><div class="ic" style="background:#E0B400"></div><div class="nm">guest_nice</div><div class="v c1" style="letter-spacing:0.48px;margin-right:-0.48px">0%</div><div class="v c2" style="letter-spacing:0.48px;margin-right:-0.48px">0%</div><div class="v c3" style="letter-spacing:0.48px;margin-right:-0.48px">0%</div><div class="v c4" style="letter-spacing:0.48px;margin-right:-0.48px">0%</div></div>
</div>
</div>
</body></html>
